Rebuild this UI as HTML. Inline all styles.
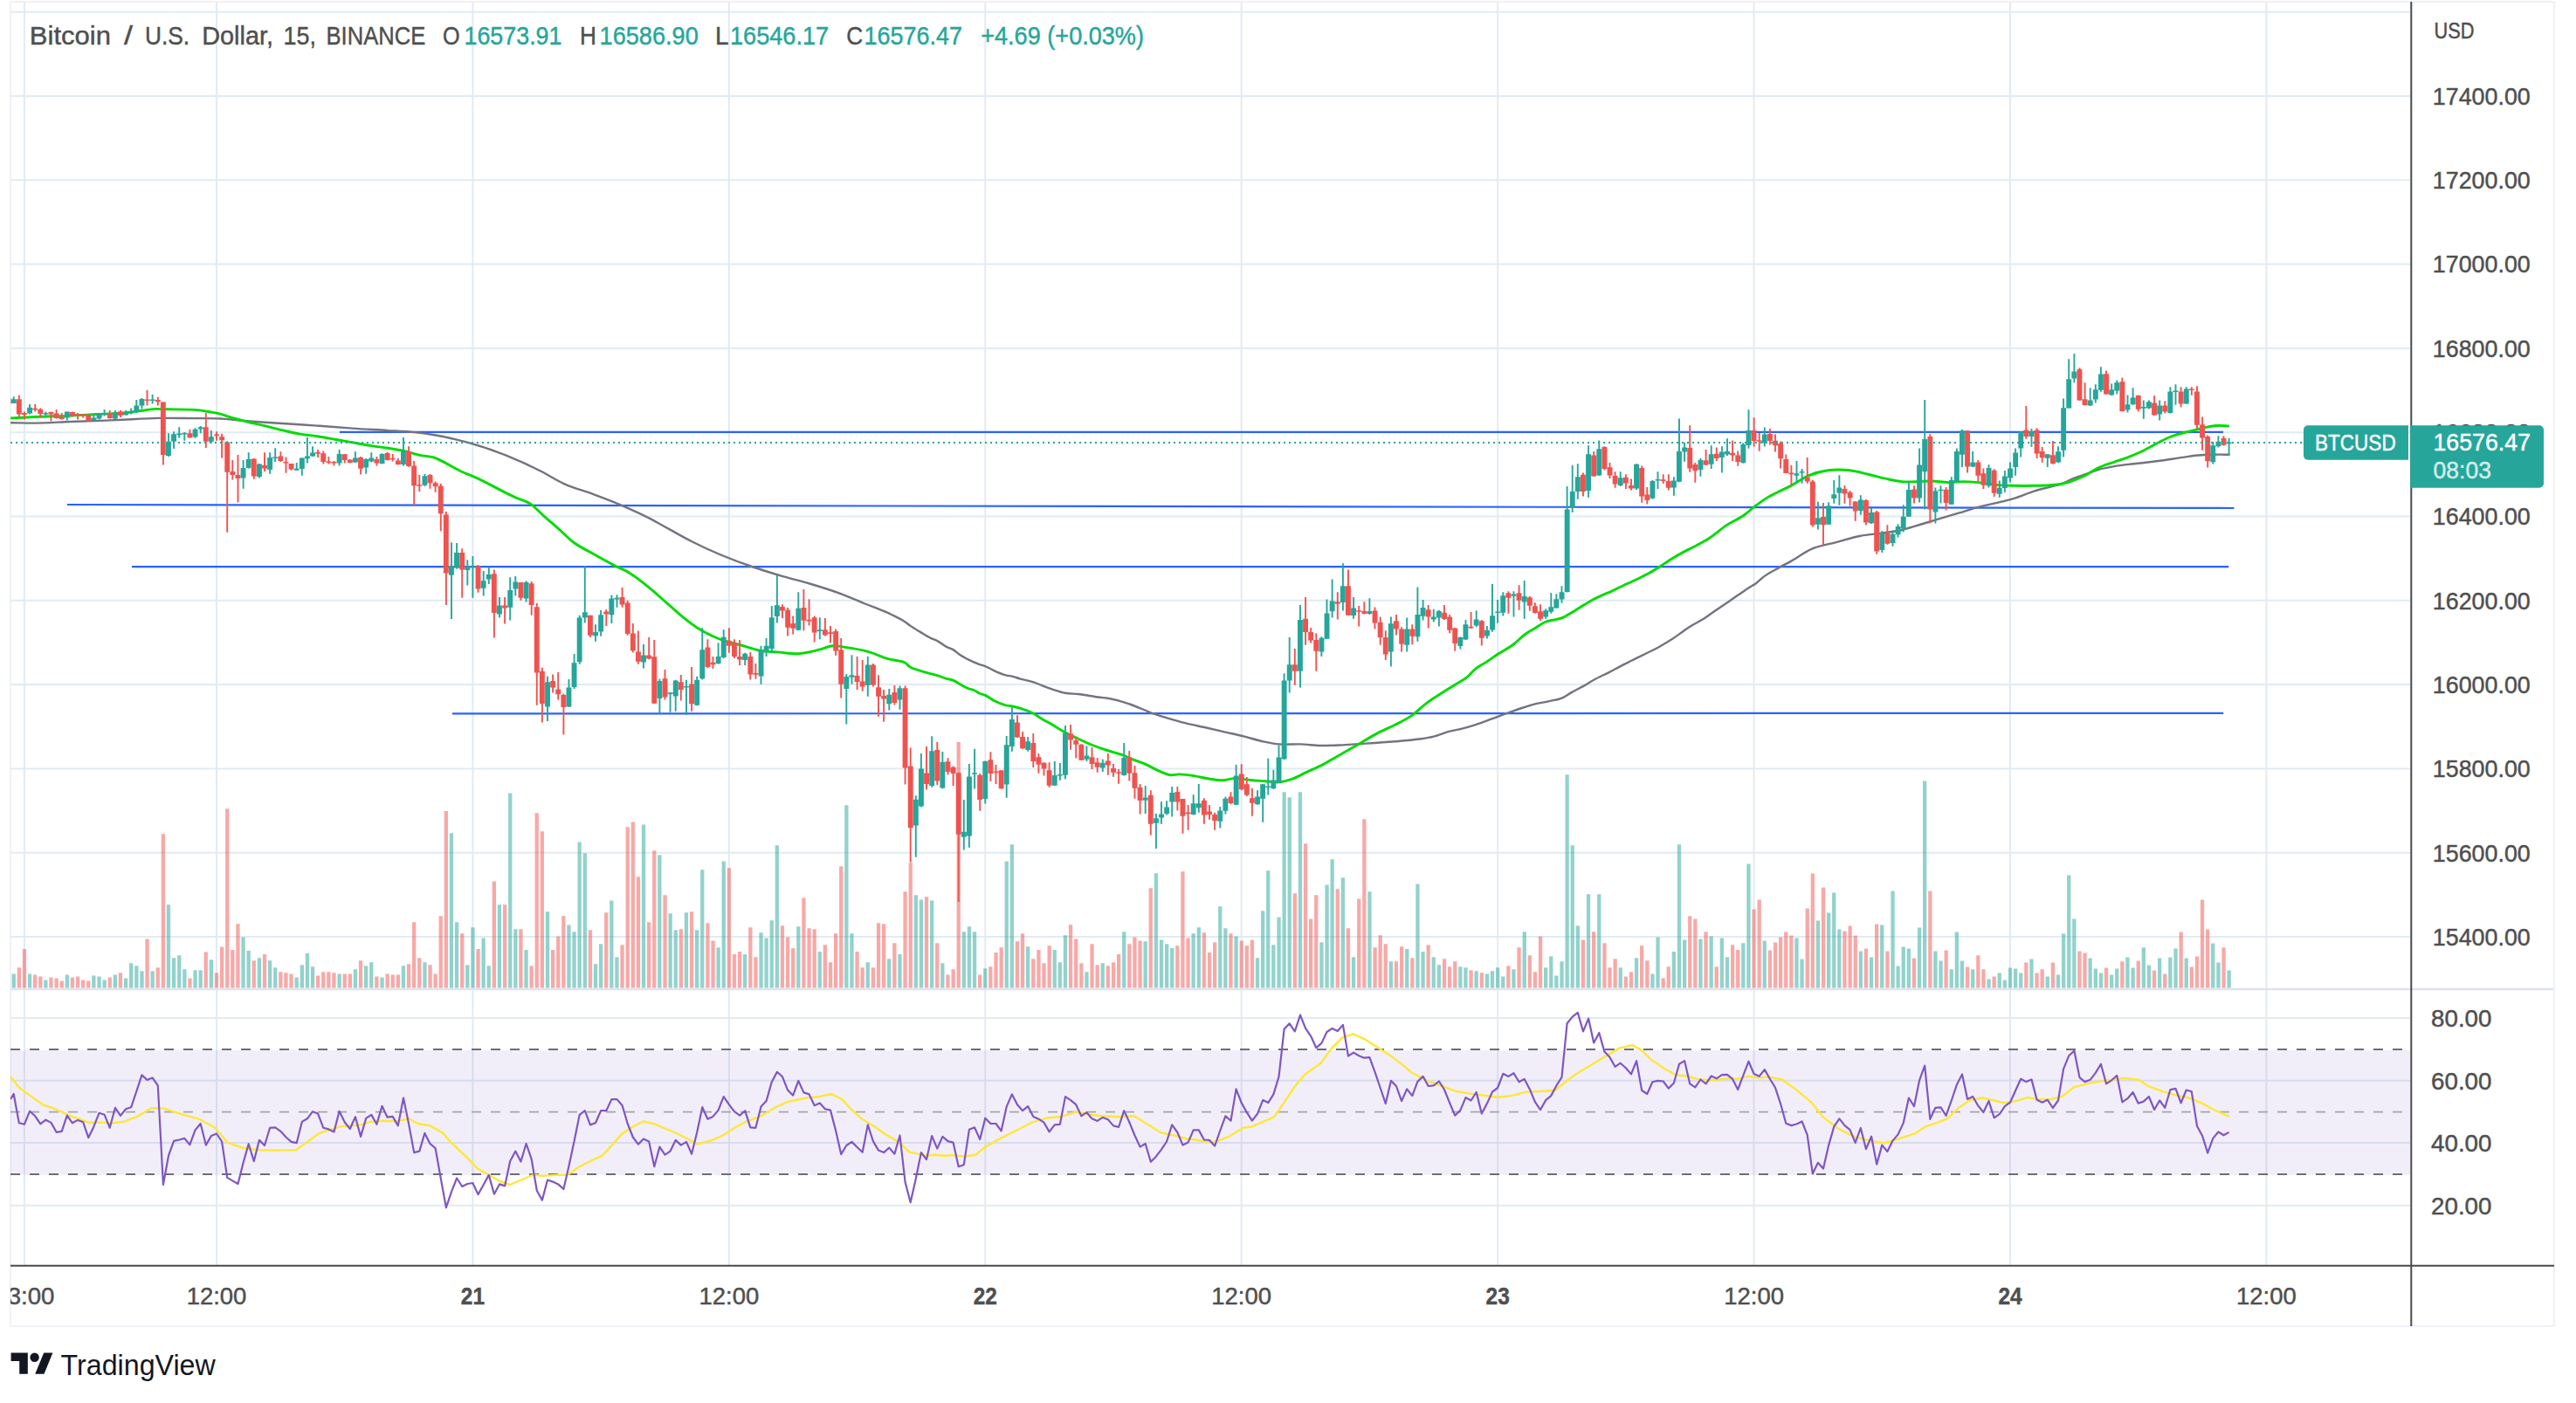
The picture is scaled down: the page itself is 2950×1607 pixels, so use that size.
<!DOCTYPE html>
<html><head><meta charset="utf-8"><title>BTCUSD</title>
<style>html,body{margin:0;padding:0;background:#fff;width:2950px;height:1607px;overflow:hidden}</style></head>
<body>
<svg width="2950" height="1607" viewBox="0 0 2950 1607" style="position:absolute;left:0;top:0;font-family:'Liberation Sans',sans-serif">
<rect width="2950" height="1607" fill="#fff"/>
<path d="M27.9 2V1449M248.0 2V1449M541.4 2V1449M834.9 2V1449M1128.3 2V1449M1421.7 2V1449M1715.2 2V1449M2008.6 2V1449M2302.0 2V1449M2595.4 2V1449M12 13.7H2760M12 110.0H2760M12 206.3H2760M12 302.6H2760M12 398.9H2760M12 495.2H2760M12 591.5H2760M12 687.8H2760M12 784.1H2760M12 880.4H2760M12 976.7H2760M12 1073.0H2760M12 1166.0H2760M12 1237.7H2760M12 1309.0H2760M12 1380.7H2760" stroke="#e1ebf3" stroke-width="2" fill="none"/>
<path d="M12 1133H2925" stroke="#e0e3eb" stroke-width="2.5"/>
<rect x="12" y="2" width="2913" height="1517" fill="none" stroke="#eceef5" stroke-width="1.6"/>
<rect x="12" y="1203" width="2748" height="143" fill="#7e57c2" fill-opacity="0.1"/>
<clipPath id="cc"><rect x="12" y="2" width="2748" height="1447"/></clipPath><g clip-path="url(#cc)">
<path d="M13.6 1131.5h4.3v-16.1h-4.3zM31.9 1131.5h4.3v-16.1h-4.3zM50.2 1131.5h4.3v-9.1h-4.3zM74.7 1131.5h4.3v-15.1h-4.3zM105.2 1131.5h4.3v-14.1h-4.3zM111.4 1131.5h4.3v-13.1h-4.3zM117.5 1131.5h4.3v-9.1h-4.3zM129.7 1131.5h4.3v-15.1h-4.3zM141.9 1131.5h4.3v-11.1h-4.3zM148.0 1131.5h4.3v-28.3h-4.3zM154.2 1131.5h4.3v-25.2h-4.3zM160.3 1131.5h4.3v-19.2h-4.3zM172.5 1131.5h4.3v-19.2h-4.3zM190.8 1131.5h4.3v-95.3h-4.3zM196.9 1131.5h4.3v-34.3h-4.3zM203.1 1131.5h4.3v-37.3h-4.3zM209.2 1131.5h4.3v-21.2h-4.3zM221.4 1131.5h4.3v-20.2h-4.3zM227.5 1131.5h4.3v-20.2h-4.3zM239.7 1131.5h4.3v-32.3h-4.3zM276.4 1131.5h4.3v-58.1h-4.3zM282.5 1131.5h4.3v-42.4h-4.3zM294.8 1131.5h4.3v-34.3h-4.3zM307.0 1131.5h4.3v-31.3h-4.3zM313.1 1131.5h4.3v-23.2h-4.3zM337.5 1131.5h4.3v-12.1h-4.3zM343.7 1131.5h4.3v-26.2h-4.3zM349.8 1131.5h4.3v-39.4h-4.3zM355.9 1131.5h4.3v-24.2h-4.3zM386.5 1131.5h4.3v-16.1h-4.3zM404.8 1131.5h4.3v-21.2h-4.3zM417.0 1131.5h4.3v-25.2h-4.3zM423.1 1131.5h4.3v-29.3h-4.3zM435.4 1131.5h4.3v-12.1h-4.3zM459.8 1131.5h4.3v-25.2h-4.3zM484.3 1131.5h4.3v-29.3h-4.3zM514.8 1131.5h4.3v-177.2h-4.3zM520.9 1131.5h4.3v-75.3h-4.3zM533.2 1131.5h4.3v-26.2h-4.3zM539.3 1131.5h4.3v-69.2h-4.3zM551.5 1131.5h4.3v-57.1h-4.3zM557.6 1131.5h4.3v-25.2h-4.3zM569.8 1131.5h4.3v-95.3h-4.3zM582.1 1131.5h4.3v-223.1h-4.3zM588.2 1131.5h4.3v-67.2h-4.3zM600.4 1131.5h4.3v-43.4h-4.3zM624.9 1131.5h4.3v-87.2h-4.3zM649.3 1131.5h4.3v-72.1h-4.3zM655.4 1131.5h4.3v-64.2h-4.3zM661.5 1131.5h4.3v-167.1h-4.3zM667.7 1131.5h4.3v-154.2h-4.3zM679.9 1131.5h4.3v-27.3h-4.3zM686.0 1131.5h4.3v-50.3h-4.3zM698.2 1131.5h4.3v-100.1h-4.3zM704.3 1131.5h4.3v-35.3h-4.3zM734.9 1131.5h4.3v-187.1h-4.3zM753.2 1131.5h4.3v-152.2h-4.3zM765.5 1131.5h4.3v-85.2h-4.3zM771.6 1131.5h4.3v-66.2h-4.3zM783.8 1131.5h4.3v-86.2h-4.3zM796.0 1131.5h4.3v-66.2h-4.3zM802.1 1131.5h4.3v-135.2h-4.3zM820.5 1131.5h4.3v-46.2h-4.3zM826.6 1131.5h4.3v-145.1h-4.3zM851.0 1131.5h4.3v-38.4h-4.3zM869.4 1131.5h4.3v-63.2h-4.3zM875.5 1131.5h4.3v-57.1h-4.3zM881.6 1131.5h4.3v-77.3h-4.3zM887.7 1131.5h4.3v-163.3h-4.3zM912.2 1131.5h4.3v-70.2h-4.3zM936.6 1131.5h4.3v-41.4h-4.3zM967.2 1131.5h4.3v-209.3h-4.3zM973.3 1131.5h4.3v-62.2h-4.3zM991.6 1131.5h4.3v-29.3h-4.3zM1016.1 1131.5h4.3v-33.3h-4.3zM1028.3 1131.5h4.3v-38.4h-4.3zM1046.7 1131.5h4.3v-106.2h-4.3zM1052.8 1131.5h4.3v-101.1h-4.3zM1065.0 1131.5h4.3v-100.1h-4.3zM1077.2 1131.5h4.3v-28.3h-4.3zM1101.7 1131.5h4.3v-64.2h-4.3zM1107.8 1131.5h4.3v-70.2h-4.3zM1113.9 1131.5h4.3v-64.2h-4.3zM1126.1 1131.5h4.3v-22.2h-4.3zM1150.6 1131.5h4.3v-145.1h-4.3zM1156.7 1131.5h4.3v-164.3h-4.3zM1175.0 1131.5h4.3v-47.2h-4.3zM1205.6 1131.5h4.3v-43.4h-4.3zM1211.7 1131.5h4.3v-29.3h-4.3zM1217.8 1131.5h4.3v-60.2h-4.3zM1242.3 1131.5h4.3v-18.2h-4.3zM1260.6 1131.5h4.3v-28.3h-4.3zM1285.1 1131.5h4.3v-64.2h-4.3zM1309.5 1131.5h4.3v-53.3h-4.3zM1321.8 1131.5h4.3v-131.2h-4.3zM1327.9 1131.5h4.3v-55.1h-4.3zM1334.0 1131.5h4.3v-50.3h-4.3zM1340.1 1131.5h4.3v-45.4h-4.3zM1364.5 1131.5h4.3v-62.2h-4.3zM1370.7 1131.5h4.3v-69.2h-4.3zM1395.1 1131.5h4.3v-93.3h-4.3zM1401.2 1131.5h4.3v-68.2h-4.3zM1413.5 1131.5h4.3v-59.1h-4.3zM1437.9 1131.5h4.3v-34.3h-4.3zM1444.0 1131.5h4.3v-88.2h-4.3zM1450.1 1131.5h4.3v-134.2h-4.3zM1456.2 1131.5h4.3v-49.3h-4.3zM1462.4 1131.5h4.3v-81.1h-4.3zM1468.5 1131.5h4.3v-224.3h-4.3zM1474.6 1131.5h4.3v-218.2h-4.3zM1486.8 1131.5h4.3v-224.3h-4.3zM1511.3 1131.5h4.3v-52.3h-4.3zM1517.4 1131.5h4.3v-118.1h-4.3zM1523.5 1131.5h4.3v-147.2h-4.3zM1535.7 1131.5h4.3v-126.2h-4.3zM1547.9 1131.5h4.3v-35.3h-4.3zM1566.3 1131.5h4.3v-110.2h-4.3zM1590.7 1131.5h4.3v-30.3h-4.3zM1609.1 1131.5h4.3v-44.4h-4.3zM1621.3 1131.5h4.3v-119.1h-4.3zM1627.4 1131.5h4.3v-41.4h-4.3zM1639.6 1131.5h4.3v-35.3h-4.3zM1645.7 1131.5h4.3v-26.2h-4.3zM1670.2 1131.5h4.3v-24.2h-4.3zM1676.3 1131.5h4.3v-23.2h-4.3zM1688.5 1131.5h4.3v-19.2h-4.3zM1700.8 1131.5h4.3v-16.1h-4.3zM1706.9 1131.5h4.3v-19.2h-4.3zM1713.0 1131.5h4.3v-23.2h-4.3zM1719.1 1131.5h4.3v-13.1h-4.3zM1731.3 1131.5h4.3v-21.2h-4.3zM1743.6 1131.5h4.3v-64.2h-4.3zM1768.0 1131.5h4.3v-23.2h-4.3zM1774.1 1131.5h4.3v-36.3h-4.3zM1780.2 1131.5h4.3v-14.1h-4.3zM1786.4 1131.5h4.3v-30.3h-4.3zM1792.5 1131.5h4.3v-244.2h-4.3zM1798.6 1131.5h4.3v-163.3h-4.3zM1804.7 1131.5h4.3v-71.3h-4.3zM1816.9 1131.5h4.3v-107.2h-4.3zM1829.1 1131.5h4.3v-107.2h-4.3zM1853.6 1131.5h4.3v-23.2h-4.3zM1871.9 1131.5h4.3v-34.3h-4.3zM1890.3 1131.5h4.3v-16.1h-4.3zM1896.4 1131.5h4.3v-58.1h-4.3zM1914.7 1131.5h4.3v-41.4h-4.3zM1920.8 1131.5h4.3v-164.3h-4.3zM1927.0 1131.5h4.3v-55.1h-4.3zM1945.3 1131.5h4.3v-56.1h-4.3zM1957.5 1131.5h4.3v-59.1h-4.3zM1969.7 1131.5h4.3v-57.1h-4.3zM1975.9 1131.5h4.3v-35.3h-4.3zM1994.2 1131.5h4.3v-51.3h-4.3zM2000.3 1131.5h4.3v-142.1h-4.3zM2018.6 1131.5h4.3v-54.0h-4.3zM2055.3 1131.5h4.3v-57.0h-4.3zM2061.4 1131.5h4.3v-33.1h-4.3zM2079.8 1131.5h4.3v-77.0h-4.3zM2092.0 1131.5h4.3v-86.0h-4.3zM2098.1 1131.5h4.3v-109.0h-4.3zM2104.2 1131.5h4.3v-67.1h-4.3zM2128.7 1131.5h4.3v-42.1h-4.3zM2140.9 1131.5h4.3v-35.1h-4.3zM2153.1 1131.5h4.3v-72.0h-4.3zM2165.4 1131.5h4.3v-111.0h-4.3zM2171.5 1131.5h4.3v-25.0h-4.3zM2177.6 1131.5h4.3v-47.1h-4.3zM2183.7 1131.5h4.3v-45.0h-4.3zM2195.9 1131.5h4.3v-69.1h-4.3zM2202.0 1131.5h4.3v-237.1h-4.3zM2214.3 1131.5h4.3v-42.1h-4.3zM2220.4 1131.5h4.3v-31.1h-4.3zM2232.6 1131.5h4.3v-21.2h-4.3zM2238.7 1131.5h4.3v-63.9h-4.3zM2244.8 1131.5h4.3v-31.1h-4.3zM2257.1 1131.5h4.3v-21.2h-4.3zM2275.4 1131.5h4.3v-10.1h-4.3zM2287.6 1131.5h4.3v-17.1h-4.3zM2293.7 1131.5h4.3v-9.0h-4.3zM2299.9 1131.5h4.3v-23.0h-4.3zM2306.0 1131.5h4.3v-22.1h-4.3zM2312.1 1131.5h4.3v-17.1h-4.3zM2324.3 1131.5h4.3v-33.1h-4.3zM2342.6 1131.5h4.3v-13.1h-4.3zM2354.9 1131.5h4.3v-15.1h-4.3zM2361.0 1131.5h4.3v-62.1h-4.3zM2367.1 1131.5h4.3v-129.0h-4.3zM2373.2 1131.5h4.3v-79.0h-4.3zM2391.5 1131.5h4.3v-34.0h-4.3zM2397.7 1131.5h4.3v-22.1h-4.3zM2403.8 1131.5h4.3v-17.1h-4.3zM2416.0 1131.5h4.3v-15.1h-4.3zM2422.1 1131.5h4.3v-22.1h-4.3zM2434.3 1131.5h4.3v-35.1h-4.3zM2440.5 1131.5h4.3v-23.0h-4.3zM2452.7 1131.5h4.3v-46.2h-4.3zM2458.8 1131.5h4.3v-26.1h-4.3zM2471.0 1131.5h4.3v-34.0h-4.3zM2483.2 1131.5h4.3v-35.1h-4.3zM2489.4 1131.5h4.3v-45.0h-4.3zM2501.6 1131.5h4.3v-34.0h-4.3zM2532.1 1131.5h4.3v-51.1h-4.3zM2538.3 1131.5h4.3v-29.0h-4.3zM2550.5 1131.5h4.3v-20.0h-4.3z" fill="#26a69a" fill-opacity="0.5"/>
<path d="M7.4 1131.5h4.3v-10.0h-4.3zM19.7 1131.5h4.3v-23.2h-4.3zM25.8 1131.5h4.3v-44.4h-4.3zM38.0 1131.5h4.3v-15.1h-4.3zM44.1 1131.5h4.3v-13.1h-4.3zM56.3 1131.5h4.3v-12.1h-4.3zM62.5 1131.5h4.3v-11.1h-4.3zM68.6 1131.5h4.3v-8.1h-4.3zM80.8 1131.5h4.3v-12.1h-4.3zM86.9 1131.5h4.3v-13.1h-4.3zM93.0 1131.5h4.3v-9.1h-4.3zM99.1 1131.5h4.3v-8.1h-4.3zM123.6 1131.5h4.3v-12.1h-4.3zM135.8 1131.5h4.3v-17.2h-4.3zM166.4 1131.5h4.3v-56.1h-4.3zM178.6 1131.5h4.3v-23.2h-4.3zM184.7 1131.5h4.3v-176.2h-4.3zM215.3 1131.5h4.3v-11.1h-4.3zM233.6 1131.5h4.3v-41.0h-4.3zM245.8 1131.5h4.3v-17.2h-4.3zM252.0 1131.5h4.3v-47.0h-4.3zM258.1 1131.5h4.3v-205.3h-4.3zM264.2 1131.5h4.3v-43.4h-4.3zM270.3 1131.5h4.3v-73.3h-4.3zM288.6 1131.5h4.3v-31.3h-4.3zM300.9 1131.5h4.3v-38.4h-4.3zM319.2 1131.5h4.3v-18.2h-4.3zM325.3 1131.5h4.3v-17.2h-4.3zM331.4 1131.5h4.3v-16.1h-4.3zM362.0 1131.5h4.3v-14.1h-4.3zM368.1 1131.5h4.3v-18.2h-4.3zM374.2 1131.5h4.3v-18.2h-4.3zM380.3 1131.5h4.3v-17.2h-4.3zM392.6 1131.5h4.3v-16.1h-4.3zM398.7 1131.5h4.3v-16.1h-4.3zM410.9 1131.5h4.3v-31.3h-4.3zM429.2 1131.5h4.3v-13.1h-4.3zM441.5 1131.5h4.3v-16.1h-4.3zM447.6 1131.5h4.3v-15.1h-4.3zM453.7 1131.5h4.3v-15.1h-4.3zM465.9 1131.5h4.3v-27.3h-4.3zM472.0 1131.5h4.3v-75.3h-4.3zM478.1 1131.5h4.3v-34.3h-4.3zM490.4 1131.5h4.3v-26.2h-4.3zM496.5 1131.5h4.3v-16.1h-4.3zM502.6 1131.5h4.3v-82.2h-4.3zM508.7 1131.5h4.3v-202.5h-4.3zM527.1 1131.5h4.3v-62.2h-4.3zM545.4 1131.5h4.3v-44.4h-4.3zM563.7 1131.5h4.3v-122.1h-4.3zM576.0 1131.5h4.3v-95.3h-4.3zM594.3 1131.5h4.3v-67.2h-4.3zM606.5 1131.5h4.3v-25.2h-4.3zM612.6 1131.5h4.3v-200.2h-4.3zM618.7 1131.5h4.3v-179.2h-4.3zM631.0 1131.5h4.3v-43.4h-4.3zM637.1 1131.5h4.3v-59.1h-4.3zM643.2 1131.5h4.3v-82.2h-4.3zM673.8 1131.5h4.3v-66.2h-4.3zM692.1 1131.5h4.3v-86.2h-4.3zM710.4 1131.5h4.3v-49.3h-4.3zM716.6 1131.5h4.3v-184.3h-4.3zM722.7 1131.5h4.3v-190.1h-4.3zM728.8 1131.5h4.3v-127.2h-4.3zM741.0 1131.5h4.3v-75.3h-4.3zM747.1 1131.5h4.3v-157.2h-4.3zM759.4 1131.5h4.3v-106.2h-4.3zM777.7 1131.5h4.3v-67.2h-4.3zM789.9 1131.5h4.3v-87.2h-4.3zM808.3 1131.5h4.3v-74.3h-4.3zM814.4 1131.5h4.3v-54.1h-4.3zM832.7 1131.5h4.3v-137.3h-4.3zM838.8 1131.5h4.3v-38.4h-4.3zM844.9 1131.5h4.3v-41.4h-4.3zM857.2 1131.5h4.3v-69.2h-4.3zM863.3 1131.5h4.3v-35.3h-4.3zM893.8 1131.5h4.3v-71.3h-4.3zM900.0 1131.5h4.3v-58.1h-4.3zM906.1 1131.5h4.3v-45.4h-4.3zM918.3 1131.5h4.3v-103.1h-4.3zM924.4 1131.5h4.3v-68.2h-4.3zM930.5 1131.5h4.3v-67.2h-4.3zM942.7 1131.5h4.3v-49.3h-4.3zM948.9 1131.5h4.3v-29.3h-4.3zM955.0 1131.5h4.3v-62.2h-4.3zM961.1 1131.5h4.3v-139.3h-4.3zM979.4 1131.5h4.3v-41.4h-4.3zM985.5 1131.5h4.3v-23.2h-4.3zM997.8 1131.5h4.3v-23.2h-4.3zM1003.9 1131.5h4.3v-74.3h-4.3zM1010.0 1131.5h4.3v-73.3h-4.3zM1022.2 1131.5h4.3v-51.3h-4.3zM1034.4 1131.5h4.3v-110.2h-4.3zM1040.6 1131.5h4.3v-143.3h-4.3zM1058.9 1131.5h4.3v-104.2h-4.3zM1071.1 1131.5h4.3v-51.3h-4.3zM1083.3 1131.5h4.3v-15.1h-4.3zM1089.5 1131.5h4.3v-21.2h-4.3zM1095.6 1131.5h4.3v-281.4h-4.3zM1120.0 1131.5h4.3v-15.1h-4.3zM1132.2 1131.5h4.3v-24.2h-4.3zM1138.4 1131.5h4.3v-40.4h-4.3zM1144.5 1131.5h4.3v-46.2h-4.3zM1162.8 1131.5h4.3v-53.3h-4.3zM1168.9 1131.5h4.3v-62.2h-4.3zM1181.2 1131.5h4.3v-33.3h-4.3zM1187.3 1131.5h4.3v-43.4h-4.3zM1193.4 1131.5h4.3v-28.3h-4.3zM1199.5 1131.5h4.3v-48.2h-4.3zM1223.9 1131.5h4.3v-72.3h-4.3zM1230.1 1131.5h4.3v-56.1h-4.3zM1236.2 1131.5h4.3v-28.3h-4.3zM1248.4 1131.5h4.3v-50.3h-4.3zM1254.5 1131.5h4.3v-26.2h-4.3zM1266.7 1131.5h4.3v-25.2h-4.3zM1272.9 1131.5h4.3v-29.3h-4.3zM1279.0 1131.5h4.3v-38.4h-4.3zM1291.2 1131.5h4.3v-50.3h-4.3zM1297.3 1131.5h4.3v-58.1h-4.3zM1303.4 1131.5h4.3v-54.1h-4.3zM1315.6 1131.5h4.3v-114.3h-4.3zM1346.2 1131.5h4.3v-48.2h-4.3zM1352.3 1131.5h4.3v-133.2h-4.3zM1358.4 1131.5h4.3v-57.1h-4.3zM1376.8 1131.5h4.3v-63.2h-4.3zM1382.9 1131.5h4.3v-40.4h-4.3zM1389.0 1131.5h4.3v-52.3h-4.3zM1407.3 1131.5h4.3v-62.2h-4.3zM1419.6 1131.5h4.3v-54.1h-4.3zM1425.7 1131.5h4.3v-48.2h-4.3zM1431.8 1131.5h4.3v-55.1h-4.3zM1480.7 1131.5h4.3v-108.2h-4.3zM1492.9 1131.5h4.3v-165.3h-4.3zM1499.0 1131.5h4.3v-79.1h-4.3zM1505.1 1131.5h4.3v-106.2h-4.3zM1529.6 1131.5h4.3v-113.2h-4.3zM1541.8 1131.5h4.3v-68.2h-4.3zM1554.1 1131.5h4.3v-102.1h-4.3zM1560.2 1131.5h4.3v-193.2h-4.3zM1572.4 1131.5h4.3v-46.2h-4.3zM1578.5 1131.5h4.3v-60.2h-4.3zM1584.6 1131.5h4.3v-50.3h-4.3zM1596.8 1131.5h4.3v-30.3h-4.3zM1603.0 1131.5h4.3v-47.2h-4.3zM1615.2 1131.5h4.3v-34.3h-4.3zM1633.5 1131.5h4.3v-49.3h-4.3zM1651.9 1131.5h4.3v-33.3h-4.3zM1658.0 1131.5h4.3v-24.2h-4.3zM1664.1 1131.5h4.3v-30.3h-4.3zM1682.4 1131.5h4.3v-20.2h-4.3zM1694.7 1131.5h4.3v-17.2h-4.3zM1725.2 1131.5h4.3v-25.2h-4.3zM1737.4 1131.5h4.3v-46.2h-4.3zM1749.7 1131.5h4.3v-37.3h-4.3zM1755.8 1131.5h4.3v-18.2h-4.3zM1761.9 1131.5h4.3v-59.1h-4.3zM1810.8 1131.5h4.3v-55.1h-4.3zM1823.0 1131.5h4.3v-64.2h-4.3zM1835.3 1131.5h4.3v-51.3h-4.3zM1841.4 1131.5h4.3v-23.2h-4.3zM1847.5 1131.5h4.3v-33.3h-4.3zM1859.7 1131.5h4.3v-13.1h-4.3zM1865.8 1131.5h4.3v-18.2h-4.3zM1878.0 1131.5h4.3v-48.2h-4.3zM1884.2 1131.5h4.3v-31.3h-4.3zM1902.5 1131.5h4.3v-11.1h-4.3zM1908.6 1131.5h4.3v-24.2h-4.3zM1933.1 1131.5h4.3v-82.2h-4.3zM1939.2 1131.5h4.3v-79.1h-4.3zM1951.4 1131.5h4.3v-64.2h-4.3zM1963.6 1131.5h4.3v-24.2h-4.3zM1982.0 1131.5h4.3v-49.3h-4.3zM1988.1 1131.5h4.3v-43.4h-4.3zM2006.4 1131.5h4.3v-90.1h-4.3zM2012.5 1131.5h4.3v-100.9h-4.3zM2024.8 1131.5h4.3v-43.0h-4.3zM2030.9 1131.5h4.3v-52.0h-4.3zM2037.0 1131.5h4.3v-58.1h-4.3zM2043.1 1131.5h4.3v-63.9h-4.3zM2049.2 1131.5h4.3v-60.1h-4.3zM2067.6 1131.5h4.3v-91.0h-4.3zM2073.7 1131.5h4.3v-131.0h-4.3zM2085.9 1131.5h4.3v-115.1h-4.3zM2110.3 1131.5h4.3v-65.1h-4.3zM2116.5 1131.5h4.3v-71.1h-4.3zM2122.6 1131.5h4.3v-60.1h-4.3zM2134.8 1131.5h4.3v-45.0h-4.3zM2147.0 1131.5h4.3v-72.9h-4.3zM2159.3 1131.5h4.3v-42.1h-4.3zM2189.8 1131.5h4.3v-34.0h-4.3zM2208.2 1131.5h4.3v-111.0h-4.3zM2226.5 1131.5h4.3v-43.0h-4.3zM2250.9 1131.5h4.3v-24.1h-4.3zM2263.2 1131.5h4.3v-37.2h-4.3zM2269.3 1131.5h4.3v-21.2h-4.3zM2281.5 1131.5h4.3v-13.1h-4.3zM2318.2 1131.5h4.3v-29.0h-4.3zM2330.4 1131.5h4.3v-17.1h-4.3zM2336.5 1131.5h4.3v-21.2h-4.3zM2348.8 1131.5h4.3v-29.0h-4.3zM2379.3 1131.5h4.3v-42.1h-4.3zM2385.4 1131.5h4.3v-40.1h-4.3zM2409.9 1131.5h4.3v-23.0h-4.3zM2428.2 1131.5h4.3v-30.2h-4.3zM2446.6 1131.5h4.3v-31.1h-4.3zM2464.9 1131.5h4.3v-20.0h-4.3zM2477.1 1131.5h4.3v-16.0h-4.3zM2495.5 1131.5h4.3v-63.9h-4.3zM2507.7 1131.5h4.3v-24.1h-4.3zM2513.8 1131.5h4.3v-36.0h-4.3zM2519.9 1131.5h4.3v-100.9h-4.3zM2526.0 1131.5h4.3v-67.1h-4.3zM2544.4 1131.5h4.3v-46.2h-4.3z" fill="#ef5350" fill-opacity="0.5"/>
<path d="M389 494.8H2546M77 578L2558.4 582M151 649.1H2552.2M518 817.4L2546.2 816.8" stroke="#2962ff" stroke-width="2.2" fill="none"/>
<path d="M12.1 484.2C21.5 484.3 31.0 484.7 40.4 484.6C53.8 484.5 67.3 483.5 80.7 483.0C94.2 482.5 107.7 482.1 121.1 481.6C131.2 481.1 141.3 480.6 151.4 480.2C161.5 479.7 171.6 479.2 181.7 478.9C195.1 478.7 208.6 479.0 222.0 479.1C232.1 479.2 242.2 479.0 252.3 479.5C262.4 480.1 272.5 481.4 282.6 482.2C296.1 483.2 309.5 484.1 323.0 485.0C336.4 485.9 349.9 486.7 363.3 487.6C376.8 488.6 390.3 489.7 403.7 490.6C417.2 491.6 430.6 492.2 444.1 493.1C454.2 493.7 464.3 494.0 474.4 495.1C481.1 495.8 487.8 496.6 494.5 497.7C499.3 498.5 504.0 499.4 508.7 500.3C512.4 501.1 516.2 501.9 520.0 502.8C553.3 510.4 586.7 523.0 620.0 540.0C628.6 544.4 637.3 550.1 645.9 554.1C656.9 559.2 667.8 561.8 678.8 565.9C689.8 570.0 700.8 574.1 711.8 578.8C722.7 583.5 733.7 588.4 744.7 594.1C751.8 597.8 758.8 602.0 765.9 605.9C774.5 610.6 783.1 615.6 791.8 620.0C815.8 632.3 839.8 641.8 863.9 650.0C874.4 653.6 885.0 656.7 895.5 659.8C906.1 662.9 916.6 665.4 927.2 668.5C938.6 671.9 950.1 675.4 961.5 679.6C971.2 683.2 980.9 687.5 990.5 691.5C1000.4 695.5 1010.2 698.7 1020.0 703.5C1025.3 706.1 1030.6 708.3 1036.0 712.0C1038.0 713.3 1040.0 715.0 1042.0 716.4C1045.9 719.3 1049.9 721.5 1053.9 723.9C1057.9 726.3 1061.9 728.9 1065.9 730.9C1068.6 732.2 1071.2 733.0 1073.9 734.4C1077.2 736.2 1080.5 739.1 1083.9 740.9C1086.5 742.3 1089.2 742.8 1091.9 744.4C1093.9 745.6 1095.8 747.5 1097.8 748.9C1101.8 751.7 1105.8 753.8 1109.8 755.9C1113.8 757.9 1117.8 759.6 1121.8 761.1C1124.1 761.9 1126.5 762.4 1128.8 763.4C1132.1 764.7 1135.4 766.8 1138.8 768.3C1143.1 770.3 1147.4 772.2 1151.7 773.3C1154.4 774.0 1157.1 774.2 1159.7 774.8C1162.4 775.5 1165.0 776.5 1167.7 777.3C1173.0 778.9 1178.3 779.5 1183.7 781.3C1187.0 782.5 1190.3 784.0 1193.7 785.3C1198.3 787.1 1203.0 788.8 1207.6 790.3C1211.6 791.6 1215.6 793.0 1219.6 793.8C1224.6 794.8 1229.6 794.5 1234.6 795.0C1243.1 795.9 1251.5 797.8 1260.0 798.8C1262.7 799.1 1265.4 799.3 1268.1 799.7C1276.7 800.9 1285.2 803.7 1293.8 806.5C1302.3 809.4 1310.9 813.7 1319.4 816.8C1325.1 818.8 1330.8 820.7 1336.5 822.4C1343.4 824.5 1350.2 826.5 1357.1 828.2C1364.5 830.1 1371.9 831.4 1379.3 833.0C1386.2 834.6 1393.1 836.2 1400.0 837.8C1408.4 839.8 1416.9 841.5 1425.3 843.6C1432.4 845.4 1439.4 847.8 1446.5 849.3C1452.7 850.6 1459.0 851.8 1465.3 852.4C1473.1 853.1 1481.0 852.1 1488.8 852.4C1496.7 852.6 1504.5 853.8 1512.4 854.0C1521.8 854.2 1531.2 853.5 1540.6 853.1C1548.4 852.7 1556.3 852.2 1564.1 851.6C1575.1 850.9 1586.1 850.2 1597.1 849.3C1606.5 848.5 1615.9 847.8 1625.3 846.5C1630.8 845.7 1636.3 845.0 1641.8 843.6C1647.3 842.3 1652.7 839.8 1658.2 838.2C1665.5 836.2 1672.7 835.3 1680.0 833.2C1685.2 831.7 1690.5 830.0 1695.7 828.2C1702.0 826.0 1708.2 823.5 1714.5 821.1C1719.7 819.2 1725.0 817.2 1730.2 815.3C1734.4 813.8 1738.6 812.3 1742.7 811.0C1747.4 809.4 1752.1 807.8 1756.9 806.6C1762.6 805.1 1768.4 804.4 1774.1 803.1C1779.3 801.9 1784.6 801.7 1789.8 799.2C1792.9 797.7 1796.1 795.2 1799.2 793.4C1803.9 790.6 1808.6 788.5 1813.3 785.9C1817.0 783.8 1820.6 781.3 1824.3 779.3C1830.6 775.7 1836.8 773.1 1843.1 769.9C1847.3 767.7 1851.5 765.3 1855.7 763.1C1859.8 760.9 1864.0 758.9 1868.2 756.8C1874.0 754.0 1879.7 751.1 1885.5 748.2C1890.2 745.9 1894.9 743.7 1899.6 741.2C1904.8 738.3 1910.0 735.1 1915.3 731.8C1921.5 727.7 1927.8 722.5 1934.1 718.4C1940.4 714.4 1946.6 711.5 1952.9 707.4C1957.1 704.7 1961.3 701.7 1965.4 698.8C1969.6 695.9 1973.8 693.1 1978.0 690.2C1982.2 687.3 1986.4 684.4 1990.5 681.6C1994.7 678.7 1998.9 675.6 2003.1 672.9C2005.7 671.3 2008.3 670.1 2010.9 668.2C2014.0 666.0 2017.0 662.7 2020.0 660.4C2025.2 656.4 2030.4 654.0 2035.7 651.1C2040.4 648.4 2045.2 646.0 2050.0 643.4C2058.2 638.8 2066.3 632.6 2074.5 628.9C2083.9 624.7 2093.3 623.6 2102.7 621.1C2112.1 618.6 2121.5 615.5 2130.9 613.7C2138.3 612.4 2145.6 611.9 2152.9 610.9C2161.3 609.7 2169.6 608.9 2178.0 607.0C2184.2 605.5 2190.5 603.3 2196.8 601.5C2204.6 599.2 2212.5 596.8 2220.3 594.4C2228.1 592.1 2236.0 589.7 2243.8 587.4C2251.7 585.0 2259.5 582.3 2267.3 580.3C2273.1 578.8 2278.8 577.8 2284.6 576.4C2291.9 574.7 2299.2 573.2 2306.5 570.9C2314.4 568.5 2322.2 564.7 2330.1 562.3C2335.8 560.6 2341.6 559.4 2347.3 557.9C2351.5 556.8 2355.8 555.9 2360.0 554.5C2365.4 552.6 2370.7 549.3 2376.0 547.3C2380.9 545.4 2385.7 544.1 2390.6 542.4C2394.6 541.0 2398.7 539.2 2402.7 538.0C2406.7 536.9 2410.8 536.2 2414.8 535.4C2420.9 534.2 2426.9 533.2 2433.0 532.4C2439.0 531.5 2445.1 531.2 2451.2 530.5C2459.2 529.6 2467.3 528.6 2475.4 527.5C2483.5 526.4 2491.5 525.0 2499.6 523.9C2504.5 523.2 2509.3 522.3 2514.2 521.8C2519.0 521.3 2523.8 521.0 2528.7 520.8C2533.5 520.6 2538.4 520.6 2543.2 520.6C2546.7 520.6 2550.1 520.8 2553.5 520.8" stroke="#73737f" stroke-width="2.4" fill="none" stroke-linejoin="round"/>
<path d="M12.1 478.9C21.5 478.5 31.0 477.9 40.4 477.5C53.8 476.9 67.3 476.7 80.7 476.1C90.8 475.7 100.9 475.0 111.0 474.5C121.1 474.0 131.2 473.8 141.3 472.9C148.0 472.3 154.8 471.3 161.5 470.5C166.9 469.8 172.3 468.7 177.6 468.4C182.3 468.2 187.1 468.8 191.8 468.8C198.5 469.0 205.2 468.8 211.9 469.1C217.3 469.2 222.7 469.2 228.1 469.9C231.5 470.3 234.8 470.9 238.2 471.5C242.9 472.3 247.6 472.8 252.3 474.1C255.7 475.0 259.0 476.5 262.4 477.5C269.1 479.7 275.9 481.3 282.6 483.0C289.3 484.7 296.1 486.0 302.8 487.6C309.5 489.2 316.2 491.1 323.0 492.7C329.7 494.2 336.4 495.9 343.2 497.1C349.9 498.3 356.6 498.7 363.3 499.7C370.1 500.7 376.8 502.0 383.5 503.2C390.3 504.3 397.0 505.6 403.7 506.8C410.4 508.0 417.2 509.4 423.9 510.4C430.6 511.5 437.4 512.2 444.1 513.3C450.8 514.3 457.5 515.3 464.3 516.9C469.7 518.1 475.0 520.1 480.4 521.3C486.5 522.7 492.5 522.3 498.6 524.6C502.6 526.1 506.7 528.5 510.7 530.6C516.5 533.6 522.4 537.3 528.2 540.0C532.9 542.2 537.6 543.8 542.4 545.9C558.0 552.7 573.7 562.3 589.4 569.4C595.7 572.3 602.0 573.2 608.2 577.6C612.9 581.0 617.6 586.4 622.4 590.6C628.6 596.2 634.9 601.4 641.2 607.1C645.9 611.3 650.6 616.2 655.3 620.0C663.1 626.3 671.0 629.6 678.8 634.1C686.7 638.6 694.5 643.0 702.4 647.1C708.6 650.3 714.9 652.6 721.2 656.5C729.0 661.3 736.9 667.7 744.7 674.1C751.0 679.3 757.3 685.1 763.5 690.6C769.8 696.1 776.1 702.0 782.4 707.1C788.2 711.8 794.1 716.3 800.0 720.0C807.2 724.6 814.4 728.0 821.7 731.0C832.2 735.5 842.8 737.1 853.3 740.3C858.6 741.8 863.9 743.9 869.2 745.0C876.2 746.5 883.2 746.3 890.3 746.9C898.2 747.5 906.1 749.1 914.0 748.7C921.9 748.3 929.8 746.2 937.8 744.2C943.0 742.9 948.3 740.2 953.6 739.7C958.9 739.3 964.1 740.8 969.4 741.6C977.3 742.7 985.3 744.0 993.2 746.1C1002.1 748.4 1011.1 753.5 1020.0 755.4C1023.0 756.0 1026.0 756.1 1029.0 756.9C1031.6 757.5 1034.3 757.6 1037.0 759.4C1038.6 760.5 1040.3 762.7 1042.0 763.9C1044.6 765.7 1047.3 766.1 1049.9 767.0C1053.9 768.5 1057.9 769.5 1061.9 770.6C1065.9 771.8 1069.9 772.6 1073.9 773.8C1077.2 774.9 1080.5 776.3 1083.9 777.3C1086.5 778.1 1089.2 778.1 1091.9 779.3C1093.9 780.2 1095.8 781.7 1097.8 782.8C1101.8 785.1 1105.8 787.5 1109.8 789.0C1111.8 789.7 1113.8 789.9 1115.8 790.8C1117.8 791.7 1119.8 793.4 1121.8 794.3C1124.1 795.4 1126.5 795.5 1128.8 796.6C1132.1 798.1 1135.4 801.1 1138.8 802.8C1143.1 805.0 1147.4 806.7 1151.7 807.8C1154.4 808.4 1157.1 808.4 1159.7 809.0C1163.7 809.8 1167.7 810.9 1171.7 812.3C1175.7 813.6 1179.7 815.1 1183.7 817.2C1187.0 819.1 1190.3 821.7 1193.7 823.7C1197.3 825.9 1201.0 827.6 1204.6 829.7C1208.7 832.1 1212.8 835.0 1216.8 837.3C1222.5 840.5 1228.2 843.1 1233.9 845.8C1239.6 848.6 1245.3 851.3 1251.0 853.5C1256.7 855.8 1262.4 857.7 1268.1 859.5C1273.8 861.4 1279.5 862.5 1285.2 864.7C1289.2 866.2 1293.2 868.2 1297.2 869.8C1301.8 871.6 1306.3 872.9 1310.9 874.9C1316.0 877.1 1321.1 880.4 1326.3 882.6C1330.8 884.6 1335.4 887.2 1340.0 887.7C1343.4 888.1 1346.8 886.9 1350.2 886.9C1355.9 886.8 1361.6 887.7 1367.3 888.6C1373.0 889.5 1378.7 891.2 1384.4 892.0C1389.6 892.8 1394.8 893.9 1400.0 893.7C1404.5 893.6 1409.0 891.9 1413.5 891.6C1419.8 891.3 1426.1 893.0 1432.4 893.5C1437.8 894.0 1443.3 894.3 1448.8 894.7C1454.3 895.1 1459.8 896.4 1465.3 895.9C1470.0 895.4 1474.7 894.0 1479.4 892.4C1484.9 890.4 1490.4 887.2 1495.9 884.6C1502.2 881.7 1508.4 879.1 1514.7 875.9C1520.2 873.0 1525.7 869.6 1531.2 866.5C1539.0 862.0 1546.9 857.6 1554.7 853.1C1562.5 848.5 1570.4 843.5 1578.2 839.4C1584.5 836.1 1590.8 833.7 1597.1 830.5C1603.3 827.3 1609.6 824.4 1615.9 820.1C1622.2 815.8 1628.4 809.2 1634.7 804.6C1639.4 801.1 1644.1 798.2 1648.8 795.2C1655.1 791.1 1661.4 787.3 1667.6 783.4C1671.8 780.8 1675.9 779.1 1680.0 775.7C1683.1 773.0 1686.3 768.9 1689.4 766.3C1693.6 762.7 1697.8 761.2 1702.0 758.4C1706.1 755.7 1710.3 752.6 1714.5 749.8C1720.8 745.6 1727.1 742.9 1733.3 738.0C1737.5 734.8 1741.7 730.2 1745.9 727.0C1750.1 723.9 1754.2 721.8 1758.4 719.2C1762.1 716.9 1765.7 714.0 1769.4 712.5C1773.1 710.9 1776.7 710.7 1780.4 709.8C1783.5 709.0 1786.6 708.7 1789.8 707.4C1792.9 706.1 1796.1 703.8 1799.2 702.0C1803.9 699.2 1808.6 696.2 1813.3 693.3C1817.0 691.1 1820.6 688.7 1824.3 686.7C1828.5 684.5 1832.7 682.6 1836.8 680.8C1839.5 679.7 1842.1 678.8 1844.7 677.6C1848.3 676.0 1852.0 673.9 1855.7 672.2C1861.9 669.1 1868.2 666.6 1874.5 663.5C1878.7 661.5 1882.8 659.6 1887.0 657.3C1891.2 655.0 1895.4 652.3 1899.6 649.7C1903.8 647.1 1907.9 644.2 1912.1 641.6C1917.9 637.9 1923.7 634.5 1929.6 631.4C1934.1 628.9 1938.7 627.0 1943.3 624.5C1947.8 622.1 1952.4 619.7 1956.9 616.8C1963.8 612.5 1970.6 606.0 1977.5 601.4C1984.3 596.9 1991.2 594.5 1998.0 589.5C2002.0 586.5 2006.0 582.8 2010.0 579.7C2014.0 576.7 2018.0 573.7 2022.0 571.1C2027.7 567.5 2033.4 564.9 2039.1 562.1C2042.7 560.3 2046.4 558.8 2050.0 556.9C2057.1 553.4 2064.2 547.8 2071.4 544.7C2078.7 541.6 2086.0 539.8 2093.3 538.8C2101.7 537.6 2110.0 537.8 2118.4 538.8C2125.7 539.6 2133.0 541.8 2140.3 543.5C2146.6 544.9 2152.9 546.8 2159.2 548.2C2165.4 549.5 2171.7 551.1 2178.0 551.6C2184.2 552.2 2190.5 551.8 2196.8 551.6C2202.0 551.5 2207.2 550.9 2212.5 551.0C2218.7 551.1 2225.0 552.5 2231.3 552.6C2236.5 552.6 2241.7 551.7 2247.0 551.6C2253.2 551.6 2259.5 552.0 2265.8 552.6C2272.0 553.2 2278.3 554.6 2284.6 555.2C2291.9 556.0 2299.2 556.1 2306.5 556.3C2314.4 556.5 2322.2 556.5 2330.1 556.3C2335.8 556.2 2341.6 556.1 2347.3 555.7C2351.5 555.4 2355.8 555.2 2360.0 554.5C2368.2 553.0 2376.3 550.1 2384.5 546.3C2390.6 543.5 2396.6 538.8 2402.7 536.0C2408.7 533.2 2414.8 531.5 2420.9 529.3C2426.1 527.5 2431.4 525.9 2436.6 523.9C2441.5 522.0 2446.3 520.1 2451.2 517.8C2458.4 514.5 2465.7 509.9 2473.0 506.3C2477.0 504.3 2481.0 502.1 2485.1 500.5C2489.9 498.5 2494.8 497.3 2499.6 496.0C2503.7 494.9 2507.7 494.0 2511.7 493.0C2515.8 492.0 2519.8 490.8 2523.8 490.0C2528.7 488.9 2533.5 487.8 2538.4 487.5C2543.2 487.2 2548.1 487.9 2552.9 488.1" stroke="#00dc00" stroke-width="2.9" fill="none" stroke-linejoin="round"/>
<path d="M15.7 454.3V462.0M34.0 463.0V474.5M52.4 471.5V477.5M76.8 471.5V481.6M107.4 474.1V481.6M113.5 473.5V480.6M119.6 469.1V476.5M131.9 470.1V480.0M144.1 470.1V475.5M150.2 467.4V474.5M156.3 457.9V472.9M162.4 455.9V468.4M174.6 451.9V462.4M193.0 496.3V522.9M199.1 494.3V513.9M205.2 489.2V501.8M211.3 495.1V504.8M223.5 490.2V501.8M229.7 488.0V496.3M241.9 493.1V507.4M278.6 527.0V559.7M284.7 518.3V536.7M296.9 531.0V547.6M309.1 518.3V542.7M315.2 513.3V529.0M339.7 530.0V538.7M345.8 524.6V544.7M351.9 501.1V530.6M358.0 511.2V522.9M388.6 514.9V533.4M406.9 517.3V530.0M419.2 525.0V542.7M425.3 518.3V529.4M437.5 519.3V531.4M462.0 501.1V533.4M486.4 543.1V556.9M517.0 621.2V708.9M523.1 621.9V651.8M535.3 641.2V670.6M541.4 636.9V684.7M553.7 654.1V682.4M559.8 649.4V668.9M572.0 684.0V707.5M584.2 661.2V710.6M590.3 660.0V682.4M602.6 665.2V689.4M627.0 774.8V825.9M651.5 778.1V810.1M657.6 748.9V788.9M663.7 704.7V760.7M669.8 648.2V713.6M682.0 715.3V734.8M688.1 698.8V728.7M700.4 681.6V714.1M706.5 681.2V695.8M737.0 738.1V765.4M755.4 777.6V816.5M767.6 792.9V815.8M773.7 778.8V814.8M786.0 778.8V818.8M798.2 774.8V808.2M804.3 719.2V778.5M822.6 736.3V760.8M828.7 721.3V754.0M853.2 747.7V761.9M871.5 739.7V783.8M877.6 731.0V752.1M883.8 694.1V748.2M889.9 659.0V713.4M914.3 678.3V722.3M938.8 707.3V732.3M969.3 771.9V829.4M975.5 750.3V783.8M993.8 752.1V797.8M1018.3 789.1V813.6M1030.5 785.6V812.8M1048.8 911.2V981.7M1054.9 863.0V924.4M1067.2 843.2V901.7M1079.4 861.1V903.3M1103.8 916.0V973.6M1109.9 874.9V970.7M1116.1 857.8V903.5M1128.3 871.5V920.6M1152.7 842.9V913.7M1158.9 809.9V860.7M1177.2 844.1V860.7M1207.8 872.0V899.7M1213.9 874.1V893.7M1220.0 831.0V892.5M1244.4 854.4V872.0M1262.8 869.8V884.0M1287.2 851.0V888.6M1311.7 900.1V931.9M1323.9 931.9V971.9M1330.0 918.2V943.8M1336.1 917.2V933.6M1342.2 901.1V935.6M1366.7 910.3V933.6M1372.8 898.0V930.8M1397.3 924.0V948.5M1403.4 912.4V932.4M1415.6 875.9V922.2M1440.1 905.3V921.8M1446.2 898.2V941.8M1452.3 868.8V910.5M1458.4 881.8V904.1M1464.5 853.5V897.1M1470.6 771.2V870.0M1476.7 730.0V793.5M1489.0 693.1V787.6M1513.4 729.3V751.9M1519.5 686.5V731.6M1525.6 663.4V707.6M1537.9 645.3V699.4M1550.1 684.1V708.8M1568.4 685.3V704.1M1592.9 706.5V763.6M1611.2 707.6V746.5M1623.4 672.4V734.7M1629.6 686.9V710.5M1641.8 697.8V712.4M1647.9 698.7V717.5M1672.4 729.3V743.4M1678.5 710.0V733.1M1690.7 699.4V718.2M1702.9 717.1V731.6M1709.0 669.1V723.7M1715.1 687.0V713.8M1721.3 678.3V705.6M1733.5 677.2V706.6M1745.7 665.1V708.8M1770.2 697.2V708.8M1776.3 679.1V702.7M1782.4 680.3V696.7M1788.5 671.2V690.7M1794.6 556.9V678.4M1800.7 533.0V586.9M1806.8 531.3V571.8M1819.1 510.2V569.8M1831.3 504.4V545.0M1855.7 540.3V556.9M1874.1 531.3V560.9M1892.4 550.1V571.8M1898.5 540.3V559.9M1916.9 546.2V567.7M1923.0 479.4V552.3M1929.1 506.8V528.7M1947.4 524.9V545.8M1959.7 510.2V536.9M1971.9 511.3V541.5M1978.0 502.2V521.9M1996.3 507.3V530.8M2002.5 469.2V513.7M2020.8 489.4V511.6M2057.5 528.1V552.6M2063.6 536.9V553.7M2081.9 574.8V606.5M2094.2 575.2V600.7M2100.3 550.1V576.7M2106.4 544.3V578.8M2130.8 567.3V589.7M2143.1 581.9V599.9M2155.3 608.1V632.9M2167.5 607.5V625.8M2173.6 600.2V615.6M2179.7 578.3V609.6M2185.9 551.3V592.1M2198.1 513.4V575.6M2204.2 458.0V583.5M2216.4 558.4V599.6M2222.5 556.3V576.4M2234.8 546.3V578.0M2240.9 513.4V552.6M2247.0 492.1V534.9M2259.2 517.1V534.9M2277.5 532.2V558.4M2289.8 550.5V569.8M2295.9 539.1V563.9M2302.0 529.4V552.6M2308.1 513.4V544.7M2314.2 494.1V523.4M2326.5 491.0V511.8M2344.8 520.3V534.9M2357.0 511.2V529.9M2363.1 456.4V523.5M2369.2 411.2V467.5M2375.4 405.1V438.5M2393.7 444.3V464.9M2399.8 440.3V461.5M2405.9 420.3V448.8M2418.2 439.4V452.8M2424.3 435.4V451.5M2436.5 452.4V472.6M2442.6 444.3V463.7M2454.8 458.5V479.7M2460.9 458.5V468.5M2473.2 458.5V481.5M2485.4 443.3V473.6M2491.5 440.3V463.7M2503.7 443.3V462.7M2534.3 505.7V531.5M2540.4 499.3V512.6M2552.6 501.8V521.4" stroke="#26a69a" stroke-width="1.9" fill="none"/>
<path d="M9.6 455.5V463.5M21.8 452.7V477.5M27.9 471.5V480.6M40.2 463.0V471.5M46.3 467.4V478.5M58.5 471.5V482.6M64.6 469.1V479.5M70.7 472.9V480.6M82.9 471.5V477.5M89.1 472.9V480.6M95.2 474.1V478.5M101.3 474.1V482.6M125.7 470.1V479.5M138.0 470.1V478.1M168.5 446.8V464.4M180.8 454.7V464.4M186.9 460.4V532.6M217.4 491.7V501.8M235.8 472.9V512.9M248.0 494.3V504.8M254.1 496.7V524.6M260.2 505.2V609.7M266.3 527.0V549.6M272.5 520.9V575.4M290.8 525.0V548.8M303.0 518.3V540.1M321.4 517.3V529.0M327.5 523.4V541.7M333.6 531.0V538.7M364.1 514.9V524.0M370.3 516.5V531.4M376.4 522.9V531.4M382.5 528.0V533.4M394.7 519.9V530.6M400.8 526.0V530.4M413.1 522.9V543.5M431.4 522.9V533.6M443.6 517.9V527.6M449.7 519.9V528.6M455.8 525.0V532.6M468.1 511.2V534.7M474.2 528.0V579.5M480.3 544.1V562.9M492.5 543.1V559.7M498.6 551.6V563.7M504.8 554.1V608.2M510.9 585.9V692.9M529.2 628.2V684.7M547.5 647.1V678.8M565.9 652.5V730.6M578.1 684.0V714.6M596.4 667.1V687.8M608.7 665.9V704.7M614.8 691.1V807.8M620.9 764.7V827.5M633.1 772.5V793.6M639.2 770.1V801.6M645.4 794.6V841.6M675.9 704.7V730.1M694.3 698.1V716.9M712.6 672.9V695.8M718.7 687.8V727.8M724.8 714.1V747.5M730.9 722.4V760.7M743.2 730.1V755.3M749.3 732.9V805.9M761.5 767.1V801.6M779.8 772.9V802.4M792.1 764.0V814.8M810.4 732.3V765.3M816.5 752.1V766.1M834.9 719.2V747.7M841.0 732.3V754.0M847.1 732.9V761.9M859.3 746.9V778.5M865.4 760.1V777.7M896.0 692.2V708.1M902.1 695.9V728.4M908.2 705.4V726.5M920.4 675.1V722.3M926.6 686.2V716.5M932.7 705.4V735.5M944.9 708.1V728.4M951.0 717.0V736.3M957.1 720.5V750.8M963.2 731.0V799.6M981.6 752.1V789.9M987.7 756.1V791.7M999.9 760.1V786.4M1006.0 773.2V820.7M1012.1 789.9V826.8M1024.4 785.1V807.5M1036.6 785.6V898.6M1042.7 856.4V987.8M1061.0 855.0V904.4M1073.3 849.8V899.1M1085.5 868.2V887.5M1091.6 877.5V899.9M1097.7 884.7V1033.1M1122.2 886.0V928.8M1134.4 861.2V894.9M1140.5 876.1V898.0M1146.6 882.3V903.5M1165.0 819.3V845.0M1171.1 838.1V857.8M1183.3 839.9V878.9M1189.4 862.9V885.7M1195.5 873.2V888.6M1201.6 873.2V901.8M1226.1 829.9V858.7M1232.2 845.0V868.6M1238.3 852.2V871.0M1250.5 856.1V880.9M1256.7 868.1V884.7M1268.9 862.9V887.7M1275.0 874.9V889.8M1281.1 880.9V897.7M1293.3 860.0V894.6M1299.5 877.1V914.8M1305.6 898.0V932.6M1317.8 905.2V956.5M1348.4 901.1V928.5M1354.5 915.1V954.8M1360.6 922.0V950.7M1378.9 914.3V943.8M1385.0 922.0V938.7M1391.1 930.8V950.7M1409.5 907.2V921.3M1421.7 875.2V905.3M1427.8 890.0V911.9M1433.9 902.9V934.7M1482.8 742.9V784.8M1495.1 684.1V738.7M1501.2 718.9V736.4M1507.3 725.3V768.8M1531.8 678.2V709.5M1544.0 652.4V704.8M1556.2 694.0V717.5M1562.3 689.3V703.4M1574.5 695.4V720.6M1580.7 706.5V738.7M1586.8 722.2V755.9M1599.0 704.1V727.6M1605.1 718.2V746.5M1617.3 715.2V738.2M1635.7 693.1V719.4M1654.0 693.1V710.0M1660.1 704.1V725.3M1666.2 718.9V745.8M1684.6 701.1V719.9M1696.8 710.0V739.4M1727.4 677.2V702.7M1739.6 670.3V698.8M1751.8 683.1V699.7M1757.9 690.2V702.7M1764.0 692.2V710.7M1813.0 541.5V568.4M1825.2 517.1V545.8M1837.4 511.3V538.6M1843.5 530.1V547.9M1849.6 540.3V558.7M1861.9 543.3V559.9M1868.0 548.4V561.6M1880.2 533.5V575.8M1886.3 558.1V577.5M1904.7 543.3V554.0M1910.8 543.3V561.6M1935.2 487.3V540.7M1941.3 530.1V552.7M1953.6 515.0V533.0M1965.8 512.5V527.9M1984.1 504.4V527.9M1990.2 516.4V533.8M2008.6 478.2V511.6M2014.7 495.9V516.7M2026.9 491.1V509.5M2033.0 497.6V517.6M2039.1 505.6V536.4M2045.3 520.5V542.1M2051.4 532.8V556.8M2069.7 523.9V553.7M2075.8 549.8V603.4M2088.0 576.1V625.0M2112.5 556.0V576.7M2118.6 562.0V579.5M2124.7 574.1V596.8M2136.9 572.0V601.5M2149.2 585.0V634.7M2161.4 601.2V623.8M2192.0 556.3V576.4M2210.3 497.2V599.6M2228.6 557.9V584.6M2253.1 493.0V541.6M2265.3 527.0V551.6M2271.4 536.4V559.9M2283.7 537.2V568.9M2320.3 465.1V502.7M2332.6 490.2V525.0M2338.7 512.1V529.7M2350.9 505.1V531.7M2381.5 421.3V458.8M2387.6 438.2V464.5M2412.0 424.5V451.8M2430.4 432.4V471.4M2448.7 452.4V471.4M2467.1 453.2V475.8M2479.3 459.3V473.6M2497.6 443.3V466.6M2509.8 443.3V452.8M2516.0 442.3V491.5M2522.1 477.5V515.8M2528.2 498.4V535.6M2546.5 499.3V510.5" stroke="#ef5350" stroke-width="1.9" fill="none"/>
<path d="M12.8 457.3h5.9v4.6h-5.9zM31.1 466.8h5.9v6.7h-5.9zM49.4 472.9h5.9v1.6h-5.9zM73.9 471.5h5.9v7.1h-5.9zM104.4 478.5h5.9v3.0h-5.9zM110.6 473.5h5.9v6.1h-5.9zM116.7 473.2h5.9v1.6h-5.9zM128.9 472.5h5.9v7.1h-5.9zM141.1 472.5h5.9v3.0h-5.9zM147.2 471.5h5.9v2.0h-5.9zM153.4 464.4h5.9v7.7h-5.9zM159.5 456.9h5.9v7.5h-5.9zM171.7 457.4h5.9v1.6h-5.9zM190.0 505.8h5.9v16.1h-5.9zM196.1 497.3h5.9v8.5h-5.9zM202.3 496.6h5.9v1.6h-5.9zM208.4 496.0h5.9v1.6h-5.9zM220.6 491.7h5.9v8.7h-5.9zM226.7 489.2h5.9v2.4h-5.9zM238.9 500.3h5.9v5.5h-5.9zM275.6 536.1h5.9v11.5h-5.9zM281.7 526.0h5.9v10.1h-5.9zM294.0 531.4h5.9v14.7h-5.9zM306.2 524.0h5.9v14.1h-5.9zM312.3 523.5h5.9v1.6h-5.9zM336.7 536.7h5.9v2.0h-5.9zM342.9 524.6h5.9v12.5h-5.9zM349.0 522.5h5.9v2.8h-5.9zM355.1 518.5h5.9v4.0h-5.9zM385.7 519.9h5.9v10.7h-5.9zM404.0 524.6h5.9v4.8h-5.9zM416.2 526.0h5.9v9.5h-5.9zM422.3 524.6h5.9v4.0h-5.9zM434.6 519.9h5.9v11.1h-5.9zM459.0 516.5h5.9v15.5h-5.9zM483.5 545.2h5.9v10.5h-5.9zM514.0 648.2h5.9v10.6h-5.9zM520.1 632.9h5.9v17.6h-5.9zM532.4 648.7h5.9v4.2h-5.9zM538.5 648.6h5.9v1.6h-5.9zM550.7 665.2h5.9v8.5h-5.9zM556.8 658.1h5.9v5.4h-5.9zM569.0 693.4h5.9v10.1h-5.9zM581.3 676.0h5.9v19.8h-5.9zM587.4 666.6h5.9v8.0h-5.9zM599.6 667.1h5.9v18.4h-5.9zM624.1 781.2h5.9v28.2h-5.9zM648.5 787.5h5.9v21.9h-5.9zM654.6 759.3h5.9v27.8h-5.9zM660.7 707.5h5.9v50.8h-5.9zM666.9 701.2h5.9v6.4h-5.9zM679.1 724.0h5.9v4.2h-5.9zM685.2 704.2h5.9v19.3h-5.9zM697.4 685.4h5.9v18.8h-5.9zM703.5 684.8h5.9v1.6h-5.9zM734.1 750.6h5.9v7.8h-5.9zM752.4 780.0h5.9v20.0h-5.9zM764.7 793.3h5.9v1.6h-5.9zM770.8 779.5h5.9v18.1h-5.9zM783.0 786.0h5.9v1.6h-5.9zM795.2 778.8h5.9v28.9h-5.9zM801.3 744.2h5.9v33.0h-5.9zM819.7 752.1h5.9v7.9h-5.9zM825.8 729.7h5.9v23.2h-5.9zM850.2 748.7h5.9v7.4h-5.9zM868.6 744.2h5.9v30.3h-5.9zM874.7 739.7h5.9v5.3h-5.9zM880.8 707.3h5.9v35.6h-5.9zM886.9 693.3h5.9v12.7h-5.9zM911.4 696.7h5.9v25.1h-5.9zM935.8 721.3h5.9v1.6h-5.9zM966.4 775.1h5.9v14.0h-5.9zM972.5 773.2h5.9v2.6h-5.9zM990.8 761.4h5.9v23.7h-5.9zM1015.3 795.7h5.9v10.6h-5.9zM1027.5 788.3h5.9v13.2h-5.9zM1045.9 915.7h5.9v29.8h-5.9zM1052.0 880.6h5.9v43.0h-5.9zM1064.2 860.3h5.9v39.6h-5.9zM1076.4 872.7h5.9v29.8h-5.9zM1100.9 952.7h5.9v6.0h-5.9zM1107.0 889.5h5.9v68.1h-5.9zM1113.1 885.2h5.9v1.6h-5.9zM1125.3 872.0h5.9v43.1h-5.9zM1149.8 853.2h5.9v45.2h-5.9zM1155.9 824.1h5.9v30.8h-5.9zM1174.2 849.3h5.9v9.7h-5.9zM1204.8 888.1h5.9v11.6h-5.9zM1210.9 886.9h5.9v1.6h-5.9zM1217.0 839.5h5.9v48.2h-5.9zM1241.5 865.5h5.9v4.3h-5.9zM1259.8 873.7h5.9v5.8h-5.9zM1284.3 868.1h5.9v20.0h-5.9zM1308.7 913.4h5.9v3.4h-5.9zM1321.0 937.3h5.9v5.5h-5.9zM1327.1 932.6h5.9v3.9h-5.9zM1333.2 924.5h5.9v7.4h-5.9zM1339.3 907.9h5.9v10.6h-5.9zM1363.7 920.2h5.9v12.8h-5.9zM1369.9 920.2h5.9v5.1h-5.9zM1394.3 928.5h5.9v12.3h-5.9zM1400.4 914.7h5.9v14.1h-5.9zM1412.7 888.4h5.9v33.4h-5.9zM1437.1 912.4h5.9v8.9h-5.9zM1443.2 898.2h5.9v16.5h-5.9zM1449.3 900.4h5.9v1.6h-5.9zM1455.4 893.5h5.9v9.4h-5.9zM1461.6 867.6h5.9v28.7h-5.9zM1467.7 779.4h5.9v90.1h-5.9zM1473.8 761.3h5.9v18.1h-5.9zM1486.0 710.0h5.9v58.8h-5.9zM1510.5 730.7h5.9v15.8h-5.9zM1516.6 702.5h5.9v29.2h-5.9zM1522.7 688.4h5.9v11.8h-5.9zM1534.9 671.2h5.9v18.8h-5.9zM1547.1 696.4h5.9v8.5h-5.9zM1565.5 700.1h5.9v2.8h-5.9zM1589.9 714.2h5.9v32.2h-5.9zM1608.3 720.6h5.9v18.1h-5.9zM1620.5 704.1h5.9v25.2h-5.9zM1626.6 695.9h5.9v9.9h-5.9zM1638.8 706.5h5.9v3.1h-5.9zM1644.9 700.1h5.9v7.5h-5.9zM1669.4 730.0h5.9v10.1h-5.9zM1675.5 715.2h5.9v17.2h-5.9zM1687.7 709.5h5.9v7.1h-5.9zM1700.0 721.8h5.9v6.6h-5.9zM1706.1 705.2h5.9v16.4h-5.9zM1712.2 700.5h5.9v1.6h-5.9zM1718.3 682.2h5.9v19.5h-5.9zM1730.5 680.6h5.9v2.1h-5.9zM1742.8 683.1h5.9v6.4h-5.9zM1767.2 699.3h5.9v7.3h-5.9zM1773.3 695.2h5.9v5.5h-5.9zM1779.4 686.3h5.9v10.3h-5.9zM1785.6 678.3h5.9v8.3h-5.9zM1791.7 583.5h5.9v94.5h-5.9zM1797.8 562.9h5.9v18.8h-5.9zM1803.9 546.2h5.9v16.8h-5.9zM1816.1 520.2h5.9v41.9h-5.9zM1828.3 514.2h5.9v30.3h-5.9zM1852.8 547.2h5.9v8.9h-5.9zM1871.1 531.8h5.9v27.7h-5.9zM1889.5 551.0h5.9v19.7h-5.9zM1895.6 548.9h5.9v1.6h-5.9zM1913.9 550.6h5.9v8.0h-5.9zM1920.0 517.1h5.9v34.7h-5.9zM1926.2 512.5h5.9v5.1h-5.9zM1944.5 527.0h5.9v11.1h-5.9zM1956.7 520.2h5.9v11.6h-5.9zM1968.9 517.6h5.9v6.3h-5.9zM1975.1 517.1h5.9v3.4h-5.9zM1993.4 509.0h5.9v21.0h-5.9zM1999.5 493.1h5.9v16.8h-5.9zM2017.8 497.6h5.9v9.8h-5.9zM2054.5 542.2h5.9v2.5h-5.9zM2060.6 539.9h5.9v1.6h-5.9zM2079.0 593.3h5.9v7.4h-5.9zM2091.2 579.2h5.9v21.5h-5.9zM2097.3 566.2h5.9v4.7h-5.9zM2103.4 558.4h5.9v6.3h-5.9zM2127.9 572.5h5.9v12.5h-5.9zM2140.1 587.1h5.9v12.1h-5.9zM2152.3 610.6h5.9v19.4h-5.9zM2164.6 611.7h5.9v10.2h-5.9zM2170.7 603.1h5.9v9.1h-5.9zM2176.8 591.8h5.9v13.6h-5.9zM2182.9 561.0h5.9v30.7h-5.9zM2195.1 532.5h5.9v37.9h-5.9zM2201.2 503.0h5.9v37.3h-5.9zM2213.5 562.3h5.9v24.3h-5.9zM2219.6 560.7h5.9v1.6h-5.9zM2231.8 550.1h5.9v27.6h-5.9zM2237.9 517.1h5.9v35.0h-5.9zM2244.0 493.3h5.9v27.4h-5.9zM2256.3 529.4h5.9v5.0h-5.9zM2274.6 536.0h5.9v20.4h-5.9zM2286.8 558.8h5.9v6.9h-5.9zM2292.9 545.4h5.9v13.5h-5.9zM2299.1 536.4h5.9v11.0h-5.9zM2305.2 518.4h5.9v16.5h-5.9zM2311.3 494.9h5.9v18.5h-5.9zM2323.5 494.1h5.9v5.8h-5.9zM2341.8 520.3h5.9v4.4h-5.9zM2354.1 517.2h5.9v12.4h-5.9zM2360.2 467.3h5.9v48.5h-5.9zM2366.3 434.2h5.9v33.3h-5.9zM2372.4 425.4h5.9v8.2h-5.9zM2390.7 458.5h5.9v6.1h-5.9zM2396.9 446.3h5.9v11.3h-5.9zM2403.0 428.5h5.9v18.2h-5.9zM2415.2 446.3h5.9v6.1h-5.9zM2421.3 438.2h5.9v9.3h-5.9zM2433.5 463.3h5.9v6.1h-5.9zM2439.7 455.4h5.9v7.9h-5.9zM2451.9 466.1h5.9v1.6h-5.9zM2458.0 460.3h5.9v7.3h-5.9zM2470.2 464.5h5.9v10.1h-5.9zM2482.4 448.4h5.9v24.6h-5.9zM2488.6 447.4h5.9v1.6h-5.9zM2500.8 445.5h5.9v17.0h-5.9zM2531.3 510.2h5.9v19.1h-5.9zM2537.5 505.7h5.9v5.5h-5.9zM2549.7 506.6h5.9v1.6h-5.9z" fill="#26a69a"/>
<path d="M6.6 456.2h5.9v6.5h-5.9zM18.9 457.3h5.9v17.2h-5.9zM25.0 472.9h5.9v2.0h-5.9zM37.2 467.8h5.9v1.6h-5.9zM43.3 468.8h5.9v5.2h-5.9zM55.5 472.1h5.9v2.4h-5.9zM61.7 473.5h5.9v5.5h-5.9zM67.8 477.5h5.9v2.4h-5.9zM80.0 472.1h5.9v4.0h-5.9zM86.1 474.2h5.9v1.6h-5.9zM92.2 474.5h5.9v2.0h-5.9zM98.3 475.5h5.9v6.7h-5.9zM122.8 474.1h5.9v5.0h-5.9zM135.0 471.5h5.9v4.6h-5.9zM165.6 457.4h5.9v1.6h-5.9zM177.8 457.9h5.9v2.4h-5.9zM183.9 460.4h5.9v60.6h-5.9zM214.5 496.3h5.9v5.0h-5.9zM232.8 489.2h5.9v16.6h-5.9zM245.1 497.6h5.9v1.6h-5.9zM251.2 500.3h5.9v4.0h-5.9zM257.3 506.4h5.9v34.3h-5.9zM263.4 540.1h5.9v4.0h-5.9zM269.5 544.1h5.9v4.0h-5.9zM287.8 525.4h5.9v20.2h-5.9zM300.1 533.0h5.9v3.6h-5.9zM318.4 522.5h5.9v5.5h-5.9zM324.5 529.0h5.9v1.6h-5.9zM330.6 531.0h5.9v6.5h-5.9zM361.2 518.1h5.9v1.6h-5.9zM367.3 519.3h5.9v9.7h-5.9zM373.4 528.5h5.9v1.6h-5.9zM379.5 529.0h5.9v1.6h-5.9zM391.8 520.3h5.9v6.7h-5.9zM397.9 526.6h5.9v3.4h-5.9zM410.1 524.0h5.9v12.7h-5.9zM428.4 526.0h5.9v4.6h-5.9zM440.7 518.9h5.9v8.1h-5.9zM446.8 524.7h5.9v1.6h-5.9zM452.9 527.4h5.9v4.6h-5.9zM465.1 516.9h5.9v17.2h-5.9zM471.2 533.4h5.9v22.8h-5.9zM477.3 555.2h5.9v1.6h-5.9zM489.6 544.1h5.9v9.1h-5.9zM495.7 553.2h5.9v4.0h-5.9zM501.8 556.5h5.9v31.8h-5.9zM507.9 589.4h5.9v67.1h-5.9zM526.3 632.9h5.9v19.5h-5.9zM544.6 648.2h5.9v26.4h-5.9zM562.9 657.2h5.9v44.7h-5.9zM575.2 693.4h5.9v3.1h-5.9zM593.5 667.1h5.9v17.6h-5.9zM605.7 668.2h5.9v24.7h-5.9zM611.8 695.3h5.9v75.3h-5.9zM617.9 768.7h5.9v37.2h-5.9zM630.2 780.0h5.9v7.5h-5.9zM636.3 789.4h5.9v5.9h-5.9zM642.4 796.0h5.9v14.1h-5.9zM673.0 704.7h5.9v23.1h-5.9zM691.3 700.5h5.9v3.1h-5.9zM709.6 684.0h5.9v8.5h-5.9zM715.8 690.6h5.9v35.3h-5.9zM721.9 725.4h5.9v19.8h-5.9zM728.0 746.6h5.9v11.1h-5.9zM740.2 750.6h5.9v4.0h-5.9zM746.3 752.2h5.9v53.6h-5.9zM758.6 777.2h5.9v21.2h-5.9zM776.9 781.2h5.9v8.7h-5.9zM789.1 783.5h5.9v22.8h-5.9zM807.5 741.6h5.9v22.4h-5.9zM813.6 758.7h5.9v2.6h-5.9zM831.9 733.7h5.9v6.1h-5.9zM838.0 736.3h5.9v15.8h-5.9zM844.1 752.1h5.9v3.4h-5.9zM856.4 752.1h5.9v20.3h-5.9zM862.5 771.1h5.9v1.6h-5.9zM893.0 694.9h5.9v4.5h-5.9zM899.2 698.6h5.9v20.1h-5.9zM905.3 713.9h5.9v5.8h-5.9zM917.5 695.9h5.9v14.8h-5.9zM923.6 709.8h5.9v1.6h-5.9zM929.7 707.3h5.9v17.2h-5.9zM941.9 721.3h5.9v6.3h-5.9zM948.1 724.3h5.9v1.6h-5.9zM954.2 723.1h5.9v22.4h-5.9zM960.3 744.2h5.9v39.6h-5.9zM978.6 774.0h5.9v7.1h-5.9zM984.7 780.4h5.9v6.1h-5.9zM997.0 761.4h5.9v23.2h-5.9zM1003.1 787.2h5.9v10.6h-5.9zM1009.2 797.0h5.9v3.4h-5.9zM1021.4 793.0h5.9v11.9h-5.9zM1033.6 788.3h5.9v91.3h-5.9zM1039.8 877.5h5.9v70.7h-5.9zM1058.1 885.4h5.9v12.7h-5.9zM1070.3 859.0h5.9v35.6h-5.9zM1082.5 872.2h5.9v11.9h-5.9zM1088.7 878.8h5.9v7.1h-5.9zM1094.8 885.2h5.9v70.6h-5.9zM1119.2 887.7h5.9v28.2h-5.9zM1131.4 870.3h5.9v15.7h-5.9zM1137.6 883.5h5.9v1.6h-5.9zM1143.7 882.3h5.9v20.9h-5.9zM1162.0 827.5h5.9v17.1h-5.9zM1168.1 844.1h5.9v13.2h-5.9zM1180.4 851.0h5.9v21.0h-5.9zM1186.5 867.2h5.9v8.6h-5.9zM1192.6 873.7h5.9v6.8h-5.9zM1198.7 882.3h5.9v17.4h-5.9zM1223.1 840.2h5.9v7.4h-5.9zM1229.3 848.1h5.9v4.6h-5.9zM1235.4 852.7h5.9v18.0h-5.9zM1247.6 867.2h5.9v7.7h-5.9zM1253.7 873.2h5.9v5.6h-5.9zM1265.9 871.5h5.9v5.1h-5.9zM1272.1 880.1h5.9v4.6h-5.9zM1278.2 884.2h5.9v1.6h-5.9zM1290.4 867.6h5.9v18.1h-5.9zM1296.5 885.2h5.9v17.6h-5.9zM1302.6 901.8h5.9v15.1h-5.9zM1314.8 910.8h5.9v33.0h-5.9zM1345.4 906.9h5.9v11.6h-5.9zM1351.5 915.1h5.9v19.7h-5.9zM1357.6 930.5h5.9v1.7h-5.9zM1376.0 916.8h5.9v16.8h-5.9zM1382.1 929.6h5.9v3.4h-5.9zM1388.2 933.1h5.9v6.8h-5.9zM1406.5 912.4h5.9v7.5h-5.9zM1418.8 886.5h5.9v17.6h-5.9zM1424.9 898.2h5.9v12.2h-5.9zM1431.0 914.2h5.9v5.6h-5.9zM1479.9 761.3h5.9v7.5h-5.9zM1492.1 708.8h5.9v15.3h-5.9zM1498.2 724.1h5.9v9.4h-5.9zM1504.3 733.1h5.9v12.7h-5.9zM1528.8 689.3h5.9v2.4h-5.9zM1541.0 671.2h5.9v33.6h-5.9zM1553.3 699.2h5.9v1.6h-5.9zM1559.4 700.1h5.9v2.8h-5.9zM1571.6 699.4h5.9v14.1h-5.9zM1577.7 712.8h5.9v17.2h-5.9zM1583.8 730.0h5.9v19.5h-5.9zM1596.0 711.2h5.9v9.4h-5.9zM1602.2 720.6h5.9v17.2h-5.9zM1614.4 720.6h5.9v8.2h-5.9zM1632.7 698.2h5.9v8.2h-5.9zM1651.1 701.8h5.9v7.1h-5.9zM1657.2 706.5h5.9v15.3h-5.9zM1663.3 719.4h5.9v17.6h-5.9zM1681.6 717.8h5.9v1.6h-5.9zM1693.9 711.2h5.9v19.5h-5.9zM1724.4 679.2h5.9v5.6h-5.9zM1736.6 679.2h5.9v8.6h-5.9zM1748.9 684.2h5.9v9.6h-5.9zM1755.0 694.2h5.9v7.8h-5.9zM1761.1 700.2h5.9v8.6h-5.9zM1810.0 543.8h5.9v19.2h-5.9zM1822.2 521.5h5.9v24.0h-5.9zM1834.5 511.9h5.9v25.0h-5.9zM1840.6 535.2h5.9v9.2h-5.9zM1846.7 545.0h5.9v9.4h-5.9zM1858.9 546.7h5.9v6.8h-5.9zM1865.0 556.1h5.9v3.4h-5.9zM1877.2 535.9h5.9v32.5h-5.9zM1883.4 566.4h5.9v6.5h-5.9zM1901.7 549.3h5.9v1.6h-5.9zM1907.8 551.0h5.9v7.7h-5.9zM1932.3 513.0h5.9v23.4h-5.9zM1938.4 532.1h5.9v7.2h-5.9zM1950.6 527.3h5.9v5.1h-5.9zM1962.8 519.8h5.9v5.1h-5.9zM1981.2 518.8h5.9v2.7h-5.9zM1987.3 521.5h5.9v7.5h-5.9zM2005.6 493.1h5.9v12.0h-5.9zM2011.7 504.2h5.9v1.6h-5.9zM2024.0 497.1h5.9v8.0h-5.9zM2030.1 504.8h5.9v5.5h-5.9zM2036.2 507.8h5.9v17.5h-5.9zM2042.3 526.1h5.9v15.9h-5.9zM2048.4 541.6h5.9v1.6h-5.9zM2066.8 546.6h5.9v5.0h-5.9zM2072.9 551.6h5.9v49.9h-5.9zM2085.1 592.1h5.9v9.1h-5.9zM2109.5 559.9h5.9v5.5h-5.9zM2115.7 563.9h5.9v6.6h-5.9zM2121.8 574.5h5.9v11.0h-5.9zM2134.0 573.0h5.9v25.4h-5.9zM2146.2 586.6h5.9v45.0h-5.9zM2158.5 610.9h5.9v11.8h-5.9zM2189.0 560.4h5.9v10.0h-5.9zM2207.4 499.9h5.9v83.6h-5.9zM2225.7 560.7h5.9v15.4h-5.9zM2250.1 493.3h5.9v41.1h-5.9zM2262.4 529.4h5.9v15.4h-5.9zM2268.5 542.2h5.9v13.5h-5.9zM2280.7 538.8h5.9v25.9h-5.9zM2317.4 492.5h5.9v7.4h-5.9zM2329.6 492.5h5.9v27.1h-5.9zM2335.7 517.1h5.9v7.2h-5.9zM2348.0 521.2h5.9v9.7h-5.9zM2378.5 423.0h5.9v35.5h-5.9zM2384.6 457.2h5.9v6.7h-5.9zM2409.1 428.2h5.9v23.4h-5.9zM2427.4 437.2h5.9v33.7h-5.9zM2445.8 453.0h5.9v15.7h-5.9zM2464.1 461.5h5.9v13.9h-5.9zM2476.3 464.5h5.9v6.9h-5.9zM2494.7 448.4h5.9v14.1h-5.9zM2506.9 445.4h5.9v1.6h-5.9zM2513.0 448.4h5.9v38.3h-5.9zM2519.1 486.3h5.9v15.1h-5.9zM2525.2 500.0h5.9v28.3h-5.9zM2543.6 502.1h5.9v7.6h-5.9z" fill="#ef5350"/>
<path d="M12 507H2638" stroke="#26a69a" stroke-width="2" stroke-dasharray="2 4" fill="none"/>
<path d="M12 1202H2752M12 1345H2752" stroke="#6b6e7a" stroke-width="2" stroke-dasharray="11 11" fill="none"/>
<path d="M12 1273.6H2752" stroke="#a3a5ad" stroke-width="1.6" stroke-dasharray="11 11" fill="none"/>
<path d="M12.1 1233.3L22.2 1246.0L32.3 1253.4L50.5 1266.2L60.6 1269.2L70.6 1273.6L80.7 1278.3L90.8 1281.7L100.9 1285.7L117.1 1285.7L129.2 1286.3L141.3 1284.9L157.4 1278.9L173.6 1269.2L187.7 1269.6L197.8 1272.8L211.9 1277.3L228.1 1281.7L246.3 1291.8L260.4 1308.6L278.6 1315.0L296.7 1317.2L314.9 1317.6L339.1 1317.2L355.3 1305.5L365.4 1297.9L377.5 1294.4L389.6 1290.4L403.7 1289.4L413.8 1288.4L423.9 1284.9L438.0 1283.7L454.2 1284.3L468.3 1281.3L478.4 1287.0L492.5 1289.4L506.7 1297.4L517.2 1309.2L534.3 1325.3L547.4 1338.8L560.6 1346.3L572.7 1353.0L583.8 1357.0L596.9 1351.5L611.0 1345.5L621.1 1346.9L637.3 1345.9L649.4 1345.9L663.5 1336.2L676.6 1329.7L689.7 1323.7L699.8 1312.6L711.9 1299.1L724.1 1291.0L737.2 1284.3L749.3 1287.4L762.4 1293.0L772.5 1297.0L787.6 1304.5L798.7 1310.6L816.9 1305.5L829.0 1299.9L841.1 1291.8L855.3 1284.3L871.4 1278.3L889.6 1267.6L901.7 1262.1L913.8 1259.5L925.9 1257.1L938.0 1256.1L952.2 1253.0L964.3 1259.1L974.4 1270.2L986.5 1281.3L1002.6 1291.0L1012.7 1298.5L1030.3 1308.6L1041.4 1319.7L1060.6 1323.7L1070.6 1322.7L1080.7 1323.7L1092.9 1323.1L1105.0 1324.7L1117.1 1322.7L1129.2 1313.2L1143.3 1305.1L1163.5 1295.0L1181.7 1285.7L1199.8 1280.3L1214.0 1279.3L1232.1 1273.6L1242.2 1275.2L1252.3 1277.3L1262.4 1278.3L1282.6 1279.3L1298.7 1278.3L1310.9 1285.7L1329.0 1297.0L1339.1 1299.5L1349.2 1301.5L1359.3 1304.5L1369.4 1305.5L1379.5 1307.5L1391.6 1307.9L1407.8 1301.5L1423.9 1291.8L1434.0 1290.4L1444.1 1285.7L1459.2 1279.3L1470.3 1263.1L1482.4 1245.0L1494.5 1230.4L1512.7 1217.7L1524.2 1201.6L1537.3 1188.4L1549.5 1184.4L1562.6 1190.1L1578.7 1200.6L1592.9 1209.6L1605.0 1218.7L1617.1 1228.8L1635.2 1238.3L1651.4 1244.0L1667.5 1250.0L1683.7 1252.6L1699.8 1254.7L1715.0 1256.7L1730.1 1255.1L1748.3 1250.6L1764.4 1250.0L1780.6 1249.0L1798.7 1234.5L1808.8 1227.8L1818.9 1221.8L1829.0 1215.7L1839.1 1209.6L1854.3 1200.6L1869.4 1197.1L1879.5 1202.6L1891.6 1214.3L1905.7 1223.8L1918.9 1231.2L1931.0 1232.5L1944.1 1235.9L1954.2 1237.3L1968.3 1236.5L1978.4 1235.3L1988.5 1235.9L2002.6 1232.9L2014.7 1234.5L2024.8 1233.4L2040.5 1236.4L2056.3 1247.6L2074.3 1262.7L2087.8 1279.6L2105.8 1293.1L2123.8 1302.1L2141.8 1306.6L2157.6 1309.3L2175.6 1303.9L2192.5 1298.7L2204.9 1290.4L2217.3 1286.4L2229.7 1281.4L2243.2 1268.8L2256.7 1259.8L2270.2 1257.5L2283.7 1260.5L2295.0 1263.4L2308.5 1261.1L2322.0 1257.1L2333.2 1258.9L2347.9 1259.3L2362.5 1255.3L2374.9 1245.4L2391.8 1240.9L2405.3 1238.6L2418.8 1236.8L2432.3 1235.0L2449.2 1236.8L2459.3 1243.6L2477.3 1250.3L2495.3 1255.3L2506.6 1257.5L2521.2 1263.4L2534.7 1271.0L2552.8 1278.9" stroke="#fde738" stroke-width="2.4" fill="none" stroke-linejoin="round"/>
<path d="M12.0 1259.1L15.7 1253.0L21.8 1286.3L27.9 1287.8L34.0 1272.8L40.2 1278.3L46.3 1287.4L52.4 1282.7L58.5 1285.9L64.6 1296.8L70.7 1295.8L76.8 1277.7L82.9 1286.3L89.1 1282.9L95.2 1285.3L101.3 1303.1L107.4 1290.4L113.5 1274.8L119.6 1276.7L125.7 1291.8L131.9 1268.8L138.0 1277.9L144.1 1270.2L150.2 1268.2L156.3 1250.0L162.4 1231.4L168.5 1236.9L174.6 1234.5L180.8 1243.4L186.9 1357.0L193.0 1323.7L199.1 1306.9L205.2 1305.5L211.3 1303.9L217.4 1311.2L223.5 1294.4L229.7 1287.0L235.8 1311.6L241.9 1301.1L248.0 1298.5L254.1 1307.5L260.2 1348.9L266.3 1352.4L272.5 1356.0L278.6 1331.8L284.7 1310.2L290.8 1330.1L296.9 1305.9L303.0 1312.0L309.1 1291.8L315.2 1291.4L321.4 1295.8L327.5 1302.5L333.6 1307.9L339.7 1309.2L345.8 1284.9L351.9 1281.3L358.0 1273.2L364.1 1275.6L370.3 1291.8L376.4 1293.4L382.5 1296.4L388.6 1272.8L394.7 1285.3L400.8 1293.0L406.9 1279.3L413.1 1301.9L419.2 1280.9L425.3 1276.9L431.4 1287.8L437.5 1266.8L443.6 1279.7L449.7 1278.9L455.8 1289.4L462.0 1257.5L468.1 1287.4L474.2 1320.1L480.3 1318.6L486.4 1297.9L492.5 1310.0L498.6 1315.2L504.8 1349.9L510.9 1383.2L517.0 1365.1L523.1 1349.5L529.2 1359.0L535.3 1356.0L541.4 1355.0L547.5 1368.1L553.7 1357.0L559.8 1345.9L565.9 1367.7L572.0 1356.4L578.1 1358.4L584.2 1330.1L590.3 1318.6L596.4 1330.4L602.6 1310.0L608.7 1327.7L614.8 1363.7L620.9 1374.6L627.0 1351.5L633.1 1353.6L639.2 1356.4L645.4 1362.0L651.5 1335.4L657.6 1307.1L663.7 1276.9L669.8 1272.2L675.9 1288.4L682.0 1286.3L688.1 1272.2L694.3 1272.2L700.4 1259.1L706.5 1259.1L712.6 1266.2L718.7 1287.0L724.8 1302.5L730.9 1310.6L737.0 1304.5L743.2 1307.5L749.3 1336.2L755.4 1313.6L761.5 1322.7L767.6 1318.6L773.7 1305.9L779.8 1311.6L786.0 1307.9L792.1 1321.7L798.2 1297.0L804.3 1268.2L810.4 1281.7L816.5 1278.9L822.6 1271.6L828.7 1256.1L834.9 1265.2L841.0 1273.2L847.1 1277.7L853.2 1272.2L859.3 1291.4L865.4 1291.8L871.5 1267.6L877.6 1261.1L883.8 1239.3L889.9 1227.8L896.0 1233.3L902.1 1248.6L908.2 1254.7L914.3 1237.9L920.4 1251.4L926.6 1253.4L932.7 1266.2L938.8 1263.5L944.9 1270.2L951.0 1271.6L957.1 1295.0L963.2 1322.1L969.3 1312.0L975.5 1307.9L981.6 1314.0L987.7 1319.7L993.8 1288.4L999.9 1307.1L1006.0 1317.6L1012.1 1320.1L1018.3 1314.6L1024.4 1321.7L1030.5 1300.5L1036.6 1354.0L1042.7 1377.2L1048.8 1349.9L1054.9 1320.1L1061.0 1328.1L1067.2 1301.1L1073.3 1315.6L1079.4 1301.9L1085.5 1307.1L1091.6 1308.6L1097.7 1336.2L1103.8 1334.2L1109.9 1293.8L1116.1 1291.4L1122.2 1305.1L1128.3 1280.7L1134.4 1287.0L1140.5 1287.0L1146.6 1295.4L1152.7 1267.6L1158.9 1253.4L1165.0 1265.2L1171.1 1272.2L1177.2 1267.2L1183.3 1278.9L1189.4 1281.7L1195.5 1285.7L1201.6 1296.4L1207.8 1288.4L1213.9 1287.8L1220.0 1256.1L1226.1 1260.1L1232.2 1265.2L1238.3 1278.3L1244.4 1274.2L1250.5 1281.3L1256.7 1283.9L1262.8 1279.9L1268.9 1282.3L1275.0 1289.4L1281.1 1291.0L1287.2 1272.2L1293.3 1285.3L1299.5 1300.5L1305.6 1313.6L1311.7 1310.0L1317.8 1330.8L1323.9 1324.7L1330.0 1316.6L1336.1 1307.5L1342.2 1288.4L1348.4 1297.0L1354.5 1311.6L1360.6 1308.6L1366.7 1294.4L1372.8 1294.4L1378.9 1305.5L1385.0 1305.9L1391.1 1312.6L1397.3 1295.0L1403.4 1278.3L1409.5 1283.7L1415.6 1247.4L1421.7 1263.1L1427.8 1274.2L1433.9 1283.7L1440.1 1275.6L1446.2 1260.1L1452.3 1263.1L1458.4 1253.4L1464.5 1233.3L1470.6 1178.8L1476.7 1172.3L1482.8 1181.4L1489.0 1162.6L1495.1 1177.9L1501.2 1186.8L1507.3 1200.2L1513.4 1194.9L1519.5 1182.0L1525.6 1177.9L1531.8 1181.0L1537.9 1173.9L1544.0 1209.6L1550.1 1205.6L1556.2 1209.2L1562.3 1211.7L1568.4 1211.1L1574.5 1227.8L1580.7 1246.0L1586.8 1264.1L1592.9 1237.9L1599.0 1244.0L1605.1 1261.1L1611.2 1247.4L1617.3 1255.1L1623.4 1238.9L1629.6 1232.9L1635.7 1244.0L1641.8 1243.4L1647.9 1238.5L1654.0 1248.0L1660.1 1263.1L1666.2 1277.7L1672.4 1271.6L1678.5 1257.1L1684.6 1260.5L1690.7 1251.0L1696.8 1275.6L1702.9 1264.1L1709.0 1250.6L1715.1 1246.0L1721.3 1229.8L1727.4 1232.9L1733.5 1229.2L1739.6 1239.3L1745.7 1235.9L1751.8 1247.4L1757.9 1262.1L1764.0 1271.2L1770.2 1260.1L1776.3 1255.1L1782.4 1243.4L1788.5 1233.9L1794.6 1172.3L1800.7 1164.6L1806.8 1159.8L1813.0 1181.4L1819.1 1166.6L1825.2 1194.5L1831.3 1183.0L1837.4 1204.6L1843.5 1211.1L1849.6 1221.8L1855.7 1217.7L1861.9 1223.2L1868.0 1230.4L1874.1 1215.1L1880.2 1249.0L1886.3 1253.0L1892.4 1239.3L1898.5 1237.9L1904.7 1238.5L1910.8 1246.6L1916.9 1240.5L1923.0 1218.7L1929.1 1215.1L1935.2 1241.3L1941.3 1245.4L1947.4 1236.5L1953.6 1241.3L1959.7 1232.5L1965.8 1235.3L1971.9 1231.2L1978.0 1230.8L1984.1 1235.9L1990.2 1248.0L1996.3 1231.8L2002.5 1215.7L2008.6 1230.1L2014.7 1232.8L2020.8 1225.1L2026.9 1235.7L2033.0 1245.8L2039.1 1264.3L2045.3 1286.8L2051.4 1289.1L2057.5 1287.5L2063.6 1284.5L2069.7 1299.9L2075.8 1344.4L2081.9 1331.8L2088.0 1338.6L2094.2 1311.6L2100.3 1290.4L2106.4 1281.4L2112.5 1289.1L2118.6 1294.2L2124.7 1308.9L2130.8 1292.0L2136.9 1316.1L2143.1 1301.7L2149.2 1333.6L2155.3 1311.6L2161.4 1319.0L2167.5 1306.6L2173.6 1299.4L2179.7 1286.4L2185.9 1257.5L2192.0 1267.2L2198.1 1237.3L2204.2 1220.6L2210.3 1281.8L2216.4 1268.8L2222.5 1268.3L2228.6 1277.8L2234.8 1260.5L2240.9 1242.4L2247.0 1230.5L2253.1 1258.9L2259.2 1256.0L2265.3 1266.5L2271.4 1274.0L2277.5 1261.1L2283.7 1280.3L2289.8 1276.2L2295.9 1267.2L2302.0 1262.7L2308.1 1249.2L2314.2 1235.7L2320.3 1239.1L2326.5 1236.4L2332.6 1259.8L2338.7 1262.7L2344.8 1259.8L2350.9 1269.0L2357.0 1260.5L2363.1 1224.4L2369.2 1209.3L2375.4 1203.5L2381.5 1234.1L2387.6 1239.1L2393.7 1236.8L2399.8 1228.9L2405.9 1218.8L2412.0 1241.3L2418.2 1237.3L2424.3 1231.9L2430.4 1262.3L2436.5 1258.2L2442.6 1251.0L2448.7 1263.8L2454.8 1261.6L2460.9 1256.0L2467.1 1271.0L2473.2 1260.5L2479.3 1268.8L2485.4 1248.1L2491.5 1246.9L2497.6 1263.4L2503.7 1248.5L2509.8 1250.3L2516.0 1289.7L2522.1 1301.0L2528.2 1320.6L2534.3 1303.9L2540.4 1296.5L2546.5 1300.3L2552.6 1296.9" stroke="#7e57c2" stroke-width="2.2" fill="none" stroke-linejoin="round"/>
</g>
<path d="M2761.3 2V1519M12 1449.8H2925" stroke="#4a4a4a" stroke-width="2" fill="none"/>
<text x="33.8" y="50.7" font-size="30.0" fill="#4f4f4f" textLength="93.1" lengthAdjust="spacingAndGlyphs" stroke="#4f4f4f" stroke-width="0.45">Bitcoin</text>
<text x="142.0" y="50.7" font-size="30.0" fill="#4f4f4f" textLength="10.0" lengthAdjust="spacingAndGlyphs" stroke="#4f4f4f" stroke-width="0.45">/</text>
<text x="166.0" y="50.7" font-size="30.0" fill="#4f4f4f" textLength="51.2" lengthAdjust="spacingAndGlyphs" stroke="#4f4f4f" stroke-width="0.45">U.S.</text>
<text x="231.2" y="50.7" font-size="30.0" fill="#4f4f4f" textLength="81.8" lengthAdjust="spacingAndGlyphs" stroke="#4f4f4f" stroke-width="0.45">Dollar,</text>
<text x="324.6" y="50.7" font-size="30.0" fill="#4f4f4f" textLength="37.4" lengthAdjust="spacingAndGlyphs" stroke="#4f4f4f" stroke-width="0.45">15,</text>
<text x="373.5" y="50.7" font-size="30.0" fill="#4f4f4f" textLength="113.7" lengthAdjust="spacingAndGlyphs" stroke="#4f4f4f" stroke-width="0.45">BINANCE</text>
<text x="507.0" y="50.7" font-size="30.0" fill="#4f4f4f" textLength="19.6" lengthAdjust="spacingAndGlyphs" stroke="#4f4f4f" stroke-width="0.45">O</text>
<text x="531.5" y="50.7" font-size="30.0" fill="#26a69a" textLength="112.0" lengthAdjust="spacingAndGlyphs" stroke="#26a69a" stroke-width="0.45">16573.91</text>
<text x="664.0" y="50.7" font-size="30.0" fill="#4f4f4f" textLength="18.9" lengthAdjust="spacingAndGlyphs" stroke="#4f4f4f" stroke-width="0.45">H</text>
<text x="686.6" y="50.7" font-size="30.0" fill="#26a69a" textLength="113.2" lengthAdjust="spacingAndGlyphs" stroke="#26a69a" stroke-width="0.45">16586.90</text>
<text x="819.0" y="50.7" font-size="30.0" fill="#4f4f4f" textLength="15.5" lengthAdjust="spacingAndGlyphs" stroke="#4f4f4f" stroke-width="0.45">L</text>
<text x="836.0" y="50.7" font-size="30.0" fill="#26a69a" textLength="113.2" lengthAdjust="spacingAndGlyphs" stroke="#26a69a" stroke-width="0.45">16546.17</text>
<text x="969.2" y="50.7" font-size="30.0" fill="#4f4f4f" textLength="18.9" lengthAdjust="spacingAndGlyphs" stroke="#4f4f4f" stroke-width="0.45">C</text>
<text x="989.4" y="50.7" font-size="30.0" fill="#26a69a" textLength="112.6" lengthAdjust="spacingAndGlyphs" stroke="#26a69a" stroke-width="0.45">16576.47</text>
<text x="1123.2" y="50.7" font-size="30.0" fill="#26a69a" textLength="186.8" lengthAdjust="spacingAndGlyphs" stroke="#26a69a" stroke-width="0.45">+4.69 (+0.03%)</text>
<text x="2787.6" y="43.9" font-size="26.0" fill="#4f4f4f" textLength="46.0" lengthAdjust="spacingAndGlyphs" stroke="#4f4f4f" stroke-width="0.45">USD</text>
<text x="2785.8" y="119.8" font-size="27.0" fill="#4f4f4f" textLength="112.0" lengthAdjust="spacingAndGlyphs" stroke="#4f4f4f" stroke-width="0.45">17400.00</text>
<text x="2785.8" y="216.1" font-size="27.0" fill="#4f4f4f" textLength="112.0" lengthAdjust="spacingAndGlyphs" stroke="#4f4f4f" stroke-width="0.45">17200.00</text>
<text x="2785.8" y="312.4" font-size="27.0" fill="#4f4f4f" textLength="112.0" lengthAdjust="spacingAndGlyphs" stroke="#4f4f4f" stroke-width="0.45">17000.00</text>
<text x="2785.8" y="408.7" font-size="27.0" fill="#4f4f4f" textLength="112.0" lengthAdjust="spacingAndGlyphs" stroke="#4f4f4f" stroke-width="0.45">16800.00</text>
<text x="2785.8" y="505.0" font-size="27.0" fill="#4f4f4f" textLength="112.0" lengthAdjust="spacingAndGlyphs" stroke="#4f4f4f" stroke-width="0.45">16600.00</text>
<text x="2785.8" y="601.3" font-size="27.0" fill="#4f4f4f" textLength="112.0" lengthAdjust="spacingAndGlyphs" stroke="#4f4f4f" stroke-width="0.45">16400.00</text>
<text x="2785.8" y="697.6" font-size="27.0" fill="#4f4f4f" textLength="112.0" lengthAdjust="spacingAndGlyphs" stroke="#4f4f4f" stroke-width="0.45">16200.00</text>
<text x="2785.8" y="793.9" font-size="27.0" fill="#4f4f4f" textLength="112.0" lengthAdjust="spacingAndGlyphs" stroke="#4f4f4f" stroke-width="0.45">16000.00</text>
<text x="2785.8" y="890.2" font-size="27.0" fill="#4f4f4f" textLength="112.0" lengthAdjust="spacingAndGlyphs" stroke="#4f4f4f" stroke-width="0.45">15800.00</text>
<text x="2785.8" y="986.5" font-size="27.0" fill="#4f4f4f" textLength="112.0" lengthAdjust="spacingAndGlyphs" stroke="#4f4f4f" stroke-width="0.45">15600.00</text>
<text x="2785.8" y="1082.8" font-size="27.0" fill="#4f4f4f" textLength="112.0" lengthAdjust="spacingAndGlyphs" stroke="#4f4f4f" stroke-width="0.45">15400.00</text>
<text x="2784.0" y="1175.8" font-size="27.0" fill="#4f4f4f" textLength="69.5" lengthAdjust="spacingAndGlyphs" stroke="#4f4f4f" stroke-width="0.45">80.00</text>
<text x="2784.0" y="1247.5" font-size="27.0" fill="#4f4f4f" textLength="69.5" lengthAdjust="spacingAndGlyphs" stroke="#4f4f4f" stroke-width="0.45">60.00</text>
<text x="2784.0" y="1318.8" font-size="27.0" fill="#4f4f4f" textLength="69.5" lengthAdjust="spacingAndGlyphs" stroke="#4f4f4f" stroke-width="0.45">40.00</text>
<text x="2784.0" y="1390.5" font-size="27.0" fill="#4f4f4f" textLength="69.5" lengthAdjust="spacingAndGlyphs" stroke="#4f4f4f" stroke-width="0.45">20.00</text>
<path d="M2643 487.2H2758V526.8H2643a5 5 0 0 1 -5 -5V492.2a5 5 0 0 1 5 -5z" fill="#26a69a"/>
<path d="M2760.3 487.2H2908a5 5 0 0 1 5 5V553.8a5 5 0 0 1 -5 5H2760.3z" fill="#26a69a"/>
<text x="2651.0" y="516.4" font-size="26.0" fill="#fff" textLength="92.7" lengthAdjust="spacingAndGlyphs" stroke="#fff" stroke-width="0.45">BTCUSD</text>
<text x="2786.5" y="516.3" font-size="27.0" fill="#fff" textLength="111.5" lengthAdjust="spacingAndGlyphs" stroke="#fff" stroke-width="0.45">16576.47</text>
<text x="2786.5" y="548.3" font-size="27.0" fill="#d3edea" textLength="66.4" lengthAdjust="spacingAndGlyphs" stroke="#d3edea" stroke-width="0.45">08:03</text>
<clipPath id="cl"><rect x="12" y="1452" width="2749" height="66"/></clipPath>
<g clip-path="url(#cl)">
<text x="27.9" y="1493.9" font-size="27.0" fill="#4f4f4f" text-anchor="middle" textLength="69.0" lengthAdjust="spacingAndGlyphs" stroke="#4f4f4f" stroke-width="0.45">03:00</text>
<text x="248.0" y="1493.9" font-size="27.0" fill="#4f4f4f" text-anchor="middle" textLength="68.7" lengthAdjust="spacingAndGlyphs" stroke="#4f4f4f" stroke-width="0.45">12:00</text>
<text x="834.9" y="1493.9" font-size="27.0" fill="#4f4f4f" text-anchor="middle" textLength="68.7" lengthAdjust="spacingAndGlyphs" stroke="#4f4f4f" stroke-width="0.45">12:00</text>
<text x="1421.7" y="1493.9" font-size="27.0" fill="#4f4f4f" text-anchor="middle" textLength="68.7" lengthAdjust="spacingAndGlyphs" stroke="#4f4f4f" stroke-width="0.45">12:00</text>
<text x="2008.6" y="1493.9" font-size="27.0" fill="#4f4f4f" text-anchor="middle" textLength="68.7" lengthAdjust="spacingAndGlyphs" stroke="#4f4f4f" stroke-width="0.45">12:00</text>
<text x="2595.4" y="1493.9" font-size="27.0" fill="#4f4f4f" text-anchor="middle" textLength="68.7" lengthAdjust="spacingAndGlyphs" stroke="#4f4f4f" stroke-width="0.45">12:00</text>
<text x="541.4" y="1493.9" font-size="27.0" fill="#4f4f4f" text-anchor="middle" textLength="27.2" lengthAdjust="spacingAndGlyphs" font-weight="bold" stroke="#4f4f4f" stroke-width="0.45">21</text>
<text x="1128.3" y="1493.9" font-size="27.0" fill="#4f4f4f" text-anchor="middle" textLength="27.2" lengthAdjust="spacingAndGlyphs" font-weight="bold" stroke="#4f4f4f" stroke-width="0.45">22</text>
<text x="1715.2" y="1493.9" font-size="27.0" fill="#4f4f4f" text-anchor="middle" textLength="27.2" lengthAdjust="spacingAndGlyphs" font-weight="bold" stroke="#4f4f4f" stroke-width="0.45">23</text>
<text x="2302.0" y="1493.9" font-size="27.0" fill="#4f4f4f" text-anchor="middle" textLength="27.2" lengthAdjust="spacingAndGlyphs" font-weight="bold" stroke="#4f4f4f" stroke-width="0.45">24</text>
</g>
<g fill="#131722"><path d="M12.6 1549.6H31.8V1573.7H22.2V1559H12.6z"/><circle cx="39.6" cy="1554.7" r="5.2"/><path d="M50.2 1549.6H60.4L50.5 1573.7H40.2z"/></g>
<text x="69.6" y="1575.4" font-size="33.0" fill="#131722" textLength="177.2" lengthAdjust="spacingAndGlyphs">TradingView</text>
</svg>
</body></html>
